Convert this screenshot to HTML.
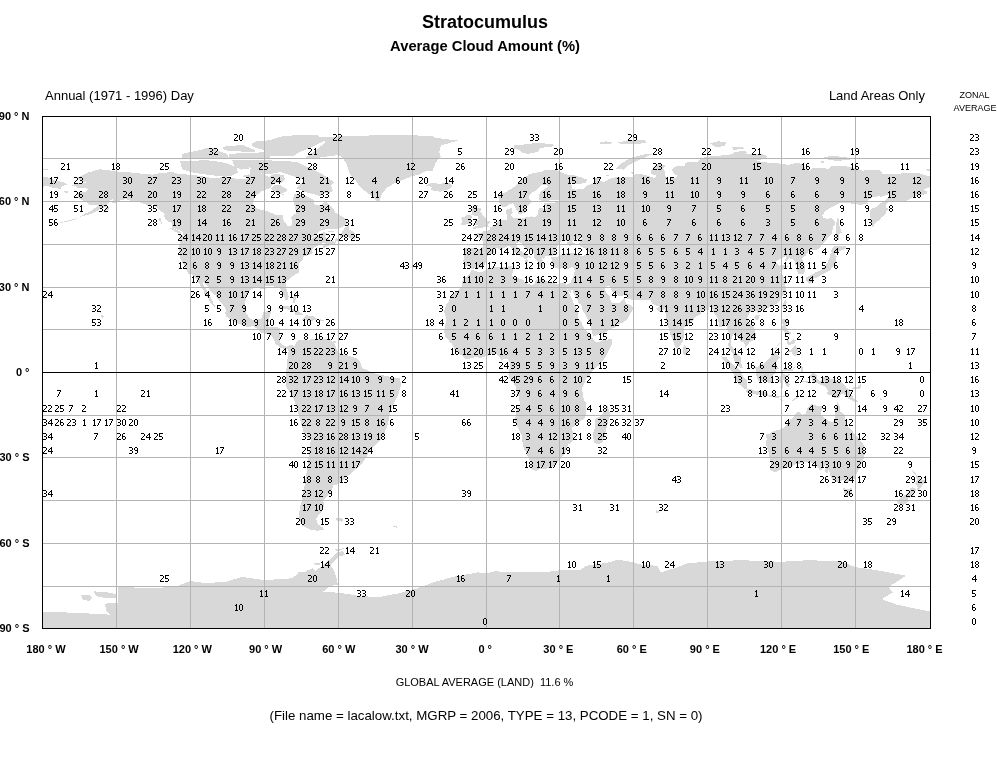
<!DOCTYPE html>
<html><head><meta charset="utf-8"><style>
html,body{margin:0;padding:0;background:#fff;width:997px;height:760px;overflow:hidden}
svg{display:block;will-change:transform}
text{font-family:"Liberation Sans",sans-serif;fill:#000}
.n{font-size:10px;text-anchor:middle}
.lat{font-size:11px;font-weight:bold;text-anchor:end}
.lon{font-size:11px;font-weight:bold;text-anchor:middle}
</style></head><body>
<svg width="997" height="760" viewBox="0 0 997 760">
<rect x="0" y="0" width="997" height="760" fill="#fff"/>
<svg x="43" y="117" width="887" height="511" viewBox="43 117 887 511" overflow="hidden">
<path d="M71.6,185.4 76.5,183.4 81.5,182.6 87.6,183.4 82.0,180.9 75.1,177.7 81.5,176.0 88.9,172.3 100.0,169.2 111.1,170.6 120.9,172.0 133.3,172.6 145.6,174.3 153.0,174.6 157.9,173.5 166.6,172.6 170.3,171.5 180.1,174.3 190.0,174.6 202.3,176.3 209.7,177.7 219.6,177.7 224.5,175.7 236.9,179.1 244.3,179.1 249.2,178.0 250.4,168.6 255.4,168.1 259.1,172.9 264.0,174.3 268.9,176.9 275.1,173.5 283.7,175.2 285.0,180.0 281.3,183.4 273.9,182.8 270.7,187.7 261.5,191.4 254.1,197.1 252.9,204.2 257.8,209.0 267.7,211.3 276.3,215.0 283.0,215.3 283.7,221.2 287.4,225.5 291.1,225.5 292.4,222.7 291.1,217.0 296.1,213.3 294.8,205.6 292.9,199.1 294.1,194.2 303.5,194.8 309.6,197.9 313.8,199.9 314.6,204.7 320.7,205.6 325.7,200.8 327.6,202.8 333.1,208.4 335.5,212.7 339.2,214.7 344.2,217.8 347.9,222.7 345.4,225.5 338.0,229.2 328.1,229.2 322.0,229.8 315.8,234.0 310.9,238.9 315.8,236.0 323.2,232.3 327.4,232.9 325.2,236.0 326.7,238.6 333.1,241.2 336.8,242.3 334.3,244.0 329.4,245.4 323.7,248.0 322.5,245.4 325.7,243.1 320.7,243.7 317.0,246.0 313.3,247.7 311.4,251.1 313.3,253.1 309.6,254.5 303.5,256.5 303.0,259.9 299.8,262.2 298.5,266.8 298.5,270.7 299.8,271.9 296.1,273.9 291.1,277.3 286.2,281.5 285.7,286.7 287.4,291.2 288.7,296.3 287.4,300.3 285.7,300.0 284.0,295.8 282.0,291.8 280.0,287.8 276.3,287.5 272.6,285.5 265.2,286.1 265.7,289.5 262.8,289.2 257.8,287.8 254.1,287.8 248.0,291.8 246.0,296.6 245.3,302.3 244.8,308.6 246.0,312.8 248.7,317.4 251.7,319.4 254.1,320.2 259.1,318.8 261.5,318.5 262.5,315.1 263.0,312.0 267.7,311.1 271.4,310.8 270.4,314.5 268.9,319.4 268.2,323.6 267.5,327.1 271.4,327.1 276.3,326.8 280.3,328.8 279.8,333.6 279.5,339.3 280.0,342.1 282.5,345.0 286.2,346.7 288.7,345.5 292.4,345.3 295.3,347.8 294.6,350.4 292.9,349.0 292.4,352.1 287.9,351.2 287.7,348.7 283.7,348.7 281.3,348.1 275.6,344.1 274.6,340.7 271.4,335.6 268.9,334.5 265.2,333.6 260.3,332.2 256.6,328.2 252.9,325.9 248.0,327.3 243.0,325.6 236.9,322.8 230.7,319.9 226.3,316.5 225.3,312.8 226.5,310.8 225.0,307.4 220.8,302.3 217.6,299.5 215.9,295.8 212.2,292.9 209.2,289.5 207.3,285.2 202.8,281.5 203.3,285.2 206.0,288.7 208.5,293.5 211.0,297.5 213.2,303.2 215.9,306.0 214.4,306.9 209.7,302.3 209.0,298.0 204.3,293.8 203.6,290.1 200.6,286.1 197.9,281.8 196.9,279.3 193.9,275.9 191.2,274.2 188.5,273.6 185.3,267.9 183.8,264.5 180.9,260.5 179.6,256.8 179.6,251.1 178.9,248.3 180.1,240.6 180.1,236.9 178.4,234.3 182.6,235.2 183.8,236.9 183.1,232.9 181.9,231.2 178.2,229.8 171.5,227.2 172.2,223.2 167.8,221.2 164.1,217.0 164.8,214.1 160.9,211.3 156.7,207.3 152.5,203.6 149.3,206.5 144.4,203.9 139.4,202.2 132.0,201.3 125.9,199.1 120.9,200.2 116.7,202.5 111.6,203.6 113.0,199.1 116.0,197.9 110.6,199.9 107.6,204.2 105.6,207.0 100.2,209.0 95.0,212.1 90.1,214.1 83.9,215.8 79.5,217.0 85.7,213.3 90.8,211.3 95.5,207.6 98.0,205.0 94.8,204.5 89.4,205.3 85.9,201.6 81.0,199.9 78.5,197.6 77.0,194.2 80.0,192.5 86.4,191.4 89.1,188.5 86.9,188.5 82.7,188.2 77.8,188.5 75.3,186.3ZM241.8,176.0 249.2,174.3 249.9,176.6 245.5,177.4ZM270.9,189.1 273.9,185.1 278.8,184.6 286.2,188.5 287.4,190.5 280.0,194.8 273.9,190.8ZM281.3,193.4 286.2,195.1 282.5,195.4ZM339.5,236.3 341.7,232.6 344.4,228.1 348.9,225.2 349.1,229.8 353.8,231.8 356.0,236.6 354.0,239.2 350.3,238.3 347.9,236.6 340.0,236.6ZM181.9,234.3 177.2,232.6 169.8,228.1 172.7,228.1 180.1,231.2ZM161.6,223.8 157.9,219.0 160.4,218.1 161.4,220.7ZM335.5,242.3 338.0,240.3 336.8,238.3 334.3,239.7ZM327.4,231.2 333.8,231.5 331.1,232.3ZM109.8,209.3 104.9,210.7 105.4,207.6 108.6,206.5ZM62.5,190.8 69.9,191.7 66.7,192.8ZM75.3,200.5 77.8,201.6 72.8,201.3ZM426.1,185.7 430.5,183.1 440.4,183.7 449.0,182.8 452.7,186.3 450.2,188.8 440.4,191.7 433.0,190.5 430.0,189.1 432.2,187.1ZM276.6,309.7 278.8,307.4 283.7,306.0 288.7,306.3 294.8,310.0 299.8,312.0 303.2,314.5 299.8,315.4 294.3,315.4 295.3,313.1 292.4,310.6 287.4,309.4 284.2,308.6 280.0,308.9ZM302.2,319.7 306.4,315.4 313.3,316.0 317.3,319.1 313.8,319.9 309.9,321.9 307.2,320.2 303.0,320.8ZM292.9,319.9 297.8,320.2 296.6,321.4 294.1,321.1ZM320.2,319.4 324.2,319.9 323.4,320.8 320.2,320.8ZM293.6,295.8 296.1,296.6 294.8,303.7 293.1,302.3ZM333.3,341.3 335.8,341.3 335.5,343.3 333.3,343.3ZM101.2,314.5 104.2,316.5 101.7,318.2 101.2,316.0ZM95.5,310.6 97.3,311.4 96.0,311.4ZM91.8,308.9 93.1,308.9 92.6,309.7ZM99.5,312.3 101.2,312.6 100.5,313.4ZM463.1,261.9 464.3,256.8 464.0,251.1 463.3,249.1 466.3,247.7 472.4,248.3 478.6,248.6 482.3,248.6 482.8,245.4 483.0,241.2 480.6,238.3 474.7,235.8 474.7,233.8 478.6,233.2 482.1,233.5 482.8,230.6 486.5,231.2 489.7,229.5 489.9,227.2 493.9,226.1 497.1,223.2 497.8,221.2 502.0,219.8 507.0,219.5 507.5,215.6 506.2,213.8 506.2,210.7 507.2,209.6 512.1,207.9 511.4,211.3 512.9,211.9 510.7,215.6 513.6,217.8 518.1,217.5 521.3,218.7 526.7,217.0 531.6,216.4 535.1,217.0 538.3,215.0 537.8,211.3 539.3,208.4 541.7,207.9 544.5,209.9 545.9,208.7 546.4,205.9 544.0,205.3 544.0,203.3 550.1,202.8 555.1,202.5 560.0,201.3 557.5,199.9 552.6,199.9 546.4,201.0 541.5,201.3 538.8,199.1 539.0,194.2 541.5,191.1 546.4,187.7 548.7,186.3 546.2,184.8 541.5,184.6 538.5,188.0 535.3,191.1 531.6,192.8 529.2,194.8 528.9,198.5 531.9,200.8 530.9,203.0 527.4,205.6 526.7,209.9 525.0,212.4 521.5,213.8 517.8,214.1 517.6,211.3 515.4,208.2 513.6,204.5 512.1,202.2 511.4,203.9 508.9,204.7 505.7,206.7 502.3,206.7 499.8,205.0 499.1,201.3 498.3,197.1 498.8,194.8 503.3,193.1 507.0,191.4 511.9,188.5 516.1,185.7 519.3,182.0 522.5,179.1 525.5,177.2 529.2,174.3 534.8,172.9 540.3,172.0 545.2,170.0 550.1,170.0 555.1,169.8 560.0,171.5 562.5,172.9 567.4,174.6 574.8,175.4 583.4,178.0 587.1,179.7 585.9,182.6 579.7,184.0 572.3,183.4 567.9,182.6 571.8,185.4 571.6,188.5 576.0,190.0 578.5,188.5 583.9,188.5 586.6,185.7 592.1,183.7 594.8,182.8 594.5,177.7 599.5,178.0 600.7,179.1 597.5,180.6 604.4,182.0 609.3,178.9 616.7,177.2 621.7,177.7 627.8,177.2 632.8,176.9 636.5,173.5 645.1,174.9 651.3,176.9 655.0,178.0 656.7,176.0 651.3,173.7 650.8,170.9 652.5,168.6 655.7,164.6 659.9,163.5 665.3,165.8 662.9,168.6 665.6,171.8 664.8,175.7 667.5,177.4 666.1,181.4 663.6,183.4 668.5,182.0 669.8,178.6 674.9,178.0 677.4,176.0 673.5,173.5 672.0,169.5 674.5,166.9 678.4,166.1 684.8,165.5 685.3,162.6 698.1,161.8 700.6,158.7 705.5,157.2 715.4,155.8 724.0,155.3 731.4,154.4 735.1,152.1 742.5,151.0 748.7,151.8 745.0,153.8 752.4,153.8 760.0,153.8 765.7,155.3 767.2,157.0 763.7,158.7 756.1,160.7 763.7,162.1 767.2,162.6 777.1,162.6 781.5,164.4 789.4,164.6 796.8,162.9 799.3,162.9 803.0,165.5 805.4,168.6 809.9,170.9 812.8,167.8 820.2,168.3 828.9,168.6 831.3,166.1 846.1,166.3 856.0,168.3 862.4,170.6 873.3,170.0 880.7,170.6 882.1,173.7 888.1,173.7 897.9,174.3 902.9,173.2 906.6,172.6 918.9,173.2 930.0,176.6 930.0,187.1 926.3,188.5 923.1,189.1 927.0,191.4 927.5,194.2 920.1,194.8 914.0,196.5 910.8,198.5 906.1,201.3 896.7,200.5 892.5,201.9 888.8,201.6 885.6,205.3 885.6,207.6 888.6,208.2 886.1,212.1 885.1,215.0 881.4,217.5 879.4,220.7 877.0,221.5 872.5,226.9 871.3,222.7 870.1,216.1 869.8,210.4 872.8,207.9 876.7,207.0 880.7,203.3 885.1,200.2 889.3,197.1 890.5,194.2 888.8,194.2 881.2,196.8 878.9,196.2 872.3,197.1 866.4,201.9 868.3,203.6 862.9,204.5 859.2,204.7 853.5,203.6 846.1,203.3 840.0,203.0 835.0,205.3 829.4,208.2 825.2,211.3 822.0,215.6 824.2,218.4 827.9,218.7 831.1,217.8 834.5,221.0 834.8,224.4 832.8,226.4 832.6,229.8 831.8,234.0 827.6,238.3 821.5,245.4 819.0,248.3 815.3,250.3 811.1,249.7 808.6,251.1 805.9,255.4 802.2,258.2 803.0,263.1 804.9,265.9 805.2,270.2 804.2,272.2 800.3,273.3 797.8,273.9 798.0,269.9 798.8,267.0 797.3,264.8 794.8,264.8 794.8,261.9 793.3,259.4 789.2,258.2 785.9,261.1 784.7,260.2 786.9,256.8 785.7,255.9 783.2,257.7 780.8,258.8 777.1,260.5 775.8,262.2 779.3,265.6 783.2,265.0 788.2,265.9 786.9,267.3 783.5,269.0 780.3,272.4 782.7,275.0 784.5,279.6 786.7,281.8 784.5,285.0 786.9,287.2 785.7,290.9 783.2,295.2 780.8,298.3 778.8,302.0 774.6,304.9 770.9,307.1 766.7,308.3 763.5,310.0 759.3,311.4 758.1,314.3 756.6,310.8 753.6,310.3 749.9,312.3 748.9,314.5 747.0,318.0 748.7,322.2 752.4,325.9 754.6,328.8 755.6,333.6 755.4,338.7 752.9,340.7 749.4,342.4 748.2,345.0 745.0,347.3 744.5,344.1 743.8,342.1 741.3,341.8 738.8,337.9 735.1,335.6 733.9,333.6 732.7,335.0 730.7,341.6 731.4,345.5 733.4,348.4 734.1,352.1 736.4,352.7 738.8,354.9 741.1,358.3 741.1,363.5 743.0,367.7 741.3,368.3 738.6,365.7 735.9,363.8 733.7,359.2 732.9,353.5 729.2,348.7 728.2,345.0 729.2,339.3 729.0,333.6 727.2,329.3 726.7,325.1 724.0,324.8 721.1,327.1 718.9,326.5 718.4,320.2 716.9,316.5 713.9,313.4 712.9,310.8 712.4,308.0 709.5,307.1 708.5,309.7 705.5,310.0 703.1,310.6 700.6,312.8 700.4,314.5 696.2,316.5 693.2,319.9 688.8,324.5 686.5,325.6 684.1,327.9 683.6,333.6 683.8,336.7 682.8,341.3 681.4,343.3 679.4,346.4 677.2,349.0 674.9,346.7 674.0,343.0 672.5,339.3 670.5,335.0 668.8,328.8 667.3,325.1 665.8,318.2 665.6,313.7 665.1,310.8 664.8,308.6 659.9,312.6 656.2,308.6 659.4,306.9 655.7,305.2 652.5,304.0 650.5,300.3 645.1,300.0 637.7,300.3 632.5,299.8 627.3,298.6 626.4,295.5 624.6,294.6 620.9,296.6 618.0,295.8 615.5,293.5 613.0,292.6 611.1,288.9 609.6,286.1 606.6,286.1 604.4,287.0 605.4,290.9 606.9,293.8 609.6,296.1 610.6,300.0 611.3,301.5 613.3,303.2 615.5,303.2 619.2,303.4 622.9,299.8 624.9,297.2 625.1,301.2 626.6,303.7 630.5,304.9 633.5,308.0 632.3,310.8 630.3,313.7 628.6,316.0 628.3,318.2 625.4,320.8 622.4,322.8 619.7,323.6 616.7,324.8 614.8,327.6 609.3,329.3 606.1,332.2 603.2,333.3 598.7,334.2 595.8,335.9 593.3,336.2 592.6,334.2 591.6,329.9 591.3,327.1 590.1,323.6 587.6,318.8 585.2,314.5 582.7,310.8 582.2,307.7 581.0,304.6 578.5,302.9 576.8,298.6 574.6,294.9 572.8,292.1 572.1,288.1 571.1,290.9 570.4,292.9 568.6,291.5 566.4,287.0 565.7,283.0 565.9,285.0 567.4,283.8 570.4,283.0 572.1,278.7 573.6,275.3 574.6,271.3 574.3,267.6 571.3,267.3 567.4,269.3 563.5,267.6 559.3,269.0 555.6,267.6 553.3,265.6 552.4,263.3 551.1,261.6 552.4,259.6 550.6,258.5 551.6,257.4 553.8,257.1 557.3,257.1 558.8,255.7 563.5,254.8 568.6,252.5 572.8,252.5 577.0,254.5 580.5,255.7 585.7,255.4 588.6,253.7 588.4,250.8 584.7,248.6 580.2,245.7 578.3,244.9 580.5,240.6 582.7,238.0 578.5,238.3 572.3,240.6 572.1,242.0 573.6,242.9 576.0,242.9 573.1,245.1 569.4,245.7 566.2,243.1 568.9,241.4 565.2,240.6 563.7,239.4 560.5,241.7 559.0,244.0 556.8,246.3 556.3,248.6 554.8,250.5 555.1,252.5 557.3,254.5 553.8,255.4 550.9,255.7 550.1,255.9 546.2,255.7 544.5,256.2 545.7,258.2 543.5,258.5 541.7,257.4 542.2,259.9 543.5,261.1 541.5,261.9 545.2,263.3 542.7,264.2 543.2,265.9 542.2,267.9 541.5,266.8 539.5,267.3 538.0,264.2 538.8,262.2 536.1,259.9 533.9,257.4 534.1,253.7 531.6,251.1 529.2,249.7 525.5,248.3 523.5,246.3 521.8,243.4 519.5,242.0 516.3,243.1 516.8,245.4 516.6,246.3 519.3,248.0 520.5,250.5 523.2,252.8 525.5,253.1 525.5,254.2 529.2,255.9 531.6,257.7 531.4,258.8 528.2,257.1 526.7,259.4 528.2,261.4 525.7,263.9 524.5,263.3 525.7,259.6 524.0,258.2 522.8,257.7 520.5,255.9 518.1,254.5 515.8,252.8 513.6,251.4 511.9,250.0 511.2,247.1 508.0,245.7 505.2,247.4 502.0,249.4 498.3,248.6 495.9,248.3 493.6,249.7 493.9,252.8 490.9,254.8 488.0,255.4 486.0,258.5 485.3,260.2 486.5,261.6 484.3,265.0 482.1,266.8 480.6,267.6 475.1,267.6 472.7,269.3 471.2,268.5 470.2,267.0 467.5,266.2 464.0,266.8 464.3,263.1 462.6,261.6ZM471.9,229.5 475.6,228.6 478.6,227.8 483.0,227.5 487.5,227.2 489.5,226.4 487.7,224.9 490.2,222.4 489.9,221.5 486.7,221.0 486.2,219.5 484.5,217.0 482.8,215.8 482.1,213.8 480.8,212.4 478.6,212.1 480.6,211.0 481.6,208.2 477.9,207.9 476.1,207.3 478.6,205.3 473.7,205.3 472.2,207.3 471.7,209.9 472.4,212.1 471.2,214.7 473.9,215.3 474.2,216.4 477.6,215.8 478.4,218.7 478.8,220.4 475.9,220.4 474.4,221.8 476.1,222.7 473.2,224.7 478.1,225.5 475.4,226.4 473.4,227.2ZM471.2,223.5 471.2,221.0 471.0,218.4 472.4,216.7 470.5,215.0 467.5,214.7 465.0,216.4 461.3,217.8 461.6,220.1 462.6,221.8 460.6,223.8 460.6,225.2 463.8,225.5 467.0,224.1 470.2,223.5ZM513.1,148.7 514.4,145.3 525.5,144.4 535.3,143.0 552.6,143.9 555.1,146.2 540.3,147.9 537.8,151.8 527.9,154.1 521.8,152.4 519.3,149.8ZM630.3,171.8 635.2,173.2 632.0,173.7ZM605.6,174.3 609.3,175.4 606.9,176.3ZM823.9,157.2 831.3,155.8 843.7,157.0 856.0,158.7 838.7,160.9 828.9,160.1ZM820.2,160.7 826.4,162.1 821.5,162.9ZM926.3,169.2 930.0,168.6 930.0,170.6 927.0,170.6ZM42.0,168.6 48.2,169.5 42.0,170.6ZM42.0,176.6 49.4,177.7 55.6,180.9 61.7,181.7 66.7,183.7 67.4,184.8 63.7,185.7 60.5,187.1 61.0,188.8 55.6,188.2 50.6,187.1 45.7,185.7 42.0,187.1ZM836.3,241.2 838.7,239.4 839.5,234.0 841.9,232.6 839.5,226.4 839.0,221.2 838.0,217.5 837.0,219.3 836.0,224.1 836.5,228.4 836.0,233.2 835.8,236.9ZM782.7,308.0 784.5,309.4 786.7,302.3 785.9,300.0 783.7,302.0 782.2,306.0ZM753.9,317.4 756.1,315.1 759.8,315.4 758.6,319.1 756.1,320.2ZM682.8,353.5 683.1,348.4 684.1,344.1 686.5,347.8 688.0,351.5 685.8,354.6 683.8,354.9ZM782.0,319.7 783.5,319.1 787.7,319.4 787.4,323.6 785.9,326.8 788.2,331.3 791.9,332.7 790.1,335.0 785.7,333.0 783.5,331.3 781.5,327.9 782.7,325.1ZM786.9,352.1 790.6,349.8 793.1,347.8 795.6,344.4 798.3,351.2 797.3,354.1 795.3,356.1 792.4,354.4 791.4,351.5ZM786.9,338.4 789.9,342.1 793.1,339.3 796.3,339.9 794.3,343.6 791.4,344.4 788.2,345.0 786.7,342.1ZM775.1,348.4 781.3,340.7 780.5,342.4 775.8,348.7ZM443.8,330.2 444.8,333.6 444.6,336.7 447.8,339.3 449.7,341.8 452.2,344.1 453.4,347.0 455.2,350.4 457.9,352.7 461.6,355.5 465.5,358.9 467.5,359.5 471.7,357.8 476.1,357.2 481.1,358.3 483.5,356.9 488.5,355.2 492.2,354.1 496.9,354.1 499.6,357.2 500.8,359.8 504.5,359.2 507.0,358.9 508.9,360.9 510.4,363.5 509.7,367.7 509.2,371.4 508.2,374.8 510.2,379.1 513.6,383.1 515.6,386.2 516.3,390.5 518.6,396.2 519.8,402.7 520.0,406.1 516.8,410.4 515.6,416.1 515.1,421.8 516.8,425.5 519.3,430.9 521.8,436.0 522.5,441.7 523.7,448.2 526.7,453.4 528.7,458.8 530.9,463.0 530.4,465.9 531.4,469.3 534.1,470.4 536.6,470.7 540.3,469.0 545.2,468.7 549.6,468.1 552.1,467.6 555.6,464.7 558.8,461.0 561.5,457.6 563.5,455.1 565.4,453.4 566.7,450.2 567.2,446.0 568.6,444.2 572.3,442.0 573.6,438.8 573.3,433.2 572.1,429.5 572.3,427.5 575.8,425.2 578.5,422.1 581.7,420.4 585.2,416.9 586.1,413.2 585.9,407.6 585.9,401.9 583.9,400.2 583.2,396.2 582.7,392.5 582.0,389.4 582.9,385.9 584.2,383.7 585.2,380.0 587.1,377.7 589.1,376.3 590.8,373.4 593.3,370.0 596.5,367.2 600.0,364.6 602.4,361.2 604.4,358.6 606.4,355.5 608.1,351.5 609.8,348.4 611.3,345.3 612.3,342.1 612.5,338.4 609.3,339.0 606.4,339.9 603.2,340.1 599.5,341.6 595.8,342.4 593.3,340.1 592.8,338.2 591.3,336.4 589.1,333.9 586.9,331.3 584.2,328.5 582.7,325.6 581.2,321.4 578.5,318.5 578.0,313.7 577.3,310.0 576.3,307.1 573.8,304.3 573.1,301.2 571.3,297.8 569.6,294.3 568.1,291.5 566.4,287.2 565.9,283.3 563.7,282.4 560.7,283.0 557.5,284.1 553.8,283.0 548.9,282.1 546.4,281.3 542.7,279.3 539.0,278.4 535.3,281.0 534.8,283.8 531.6,285.2 527.9,283.8 524.2,282.1 523.5,279.8 518.6,278.4 514.4,277.6 511.9,275.9 512.6,273.0 513.6,270.7 511.9,267.9 513.1,266.8 510.2,265.9 507.0,267.0 502.0,266.5 497.1,267.0 493.4,267.3 489.7,267.9 486.0,269.9 482.8,271.6 480.6,272.2 477.4,271.9 473.7,270.2 471.4,270.2 470.0,273.3 467.5,276.1 465.0,277.3 463.1,279.6 461.8,283.0 462.1,286.7 460.1,288.7 457.6,291.5 454.4,292.9 452.7,294.1 450.2,297.5 449.0,300.9 446.5,304.3 445.3,308.0 444.1,311.4 445.3,315.1 446.0,318.0 445.8,321.4 445.3,325.9 444.6,328.5ZM607.6,406.1 609.8,413.2 610.6,416.1 609.1,417.5 608.1,421.8 606.4,428.9 604.4,436.0 602.4,442.5 597.7,444.5 594.5,442.5 593.5,438.8 592.8,434.0 594.5,428.9 595.5,424.6 594.5,420.4 595.8,418.1 599.5,416.9 601.2,415.2 603.9,411.8 605.4,410.1 606.4,407.3ZM721.1,356.1 724.0,357.2 726.5,357.2 729.2,360.9 732.2,363.5 733.9,365.7 736.4,367.2 738.8,369.2 741.3,372.0 742.0,374.8 743.8,377.1 746.2,379.1 747.5,381.1 747.2,384.8 747.0,388.5 744.0,388.8 741.3,386.2 738.3,383.4 735.9,380.0 734.1,376.3 733.2,373.4 730.9,370.6 729.5,367.4 727.0,364.9 725.0,361.8 722.6,359.5ZM745.5,391.3 747.5,389.1 749.9,388.8 753.1,389.9 756.1,391.3 759.3,390.5 762.3,391.3 764.2,391.6 768.4,393.9 768.2,396.7 764.7,395.6 759.8,395.3 754.9,394.2 751.2,393.3 748.2,393.0ZM768.4,395.3 773.4,395.6 772.4,397.3 768.7,397.0ZM774.1,396.2 779.5,395.9 788.2,395.3 789.4,396.5 782.0,397.0 775.8,397.9ZM790.6,401.3 794.3,398.5 800.0,395.9 798.0,397.6 793.1,401.0ZM779.5,399.0 784.0,400.2 781.5,401.3ZM754.9,366.9 756.3,371.1 755.6,374.3 757.3,377.7 757.8,380.5 761.0,380.5 763.5,381.4 766.0,381.1 768.4,383.1 771.9,382.2 772.9,379.1 773.4,375.4 775.6,372.0 777.1,369.2 779.0,368.9 776.8,366.3 776.3,362.0 778.3,359.2 780.0,357.2 777.6,355.5 775.8,352.9 773.9,352.1 772.1,354.6 770.7,357.2 768.4,358.9 766.0,361.5 763.5,363.5 759.8,364.9 757.3,366.9ZM780.5,387.6 780.8,383.4 779.3,381.1 779.5,379.1 781.5,373.4 782.0,370.3 784.0,368.3 786.9,369.2 790.6,369.4 793.6,368.0 794.6,367.4 792.6,370.9 790.1,371.1 785.0,370.6 782.5,371.4 782.5,374.0 785.7,374.8 790.1,374.3 787.9,376.8 785.5,377.4 787.4,381.1 789.9,384.5 788.7,387.4 786.4,385.7 785.0,382.8 784.2,379.4 783.0,380.5 783.0,387.9ZM801.0,365.7 803.0,367.7 803.5,370.6 801.7,372.6 800.5,369.7ZM801.7,381.4 807.9,381.1 808.9,382.8 803.0,382.2ZM809.1,376.0 812.8,373.1 816.5,374.6 817.8,380.0 820.2,381.4 823.9,376.6 826.4,376.6 830.1,378.5 833.8,379.4 837.5,381.1 842.4,382.8 845.6,385.9 846.6,387.9 850.3,389.9 850.1,391.6 851.8,395.6 854.3,398.5 858.0,401.3 856.0,402.2 852.3,400.7 848.6,399.0 846.4,395.6 842.4,393.6 840.0,395.9 838.7,398.5 835.0,398.2 831.3,395.3 828.4,395.0 826.9,393.3 828.1,391.3 826.4,387.9 823.9,385.9 821.0,384.8 817.0,383.1 814.8,383.4 813.3,381.4 811.4,380.0 812.1,378.3 809.6,376.6ZM852.3,387.6 857.2,387.1 860.9,383.9 861.7,386.2 859.7,388.5 856.0,389.6 852.3,389.1ZM880.2,398.2 882.6,400.2 879.7,399.6ZM766.0,434.6 766.7,438.8 766.0,444.5 767.2,447.4 768.7,453.1 769.7,458.8 771.4,464.4 769.9,467.6 769.9,469.8 773.4,471.6 777.1,471.6 780.8,469.8 784.5,468.1 789.4,468.4 791.9,465.9 795.6,464.2 799.3,463.6 804.2,462.2 809.1,461.6 812.8,463.0 816.5,465.3 819.7,470.1 821.0,470.4 823.4,467.3 825.7,464.7 825.9,467.9 824.4,472.1 827.6,473.0 828.6,469.6 830.3,474.4 830.8,477.5 832.8,480.1 835.3,481.2 838.7,482.1 841.2,480.7 843.4,479.8 844.9,481.5 846.9,483.2 849.8,480.7 851.8,479.5 855.8,478.7 856.2,475.0 858.0,471.3 859.2,468.4 860.9,465.3 862.9,461.6 863.6,458.2 864.9,453.4 863.6,449.7 863.6,445.1 862.2,442.5 859.7,440.3 858.0,436.9 855.0,435.1 853.5,432.6 852.3,430.3 848.6,427.2 846.9,425.2 846.1,421.8 844.9,418.4 844.4,414.7 842.4,412.7 840.5,411.8 840.0,407.6 838.2,403.6 837.5,402.4 836.5,405.3 835.3,410.4 835.3,415.2 834.8,418.9 833.3,421.8 831.3,422.3 829.4,421.2 826.4,419.2 823.7,417.2 820.5,414.7 821.2,411.3 823.2,407.3 823.4,405.8 820.2,406.1 816.5,405.8 813.1,404.4 811.4,404.1 808.4,407.3 806.9,409.0 805.7,414.1 804.2,414.4 801.7,414.7 800.0,411.8 797.3,412.4 795.1,414.7 792.9,418.4 790.9,418.9 789.4,421.2 787.4,422.9 786.4,424.9 784.2,427.8 780.8,429.2 779.0,429.7 775.1,430.9 773.1,431.2 770.2,433.4 768.7,434.3 767.2,434.0ZM842.9,487.8 846.9,488.9 851.8,488.3 851.8,492.0 850.8,494.9 846.1,496.0 844.2,492.3ZM912.0,469.8 915.0,472.4 916.7,475.8 919.1,477.8 920.1,479.0 923.8,479.8 926.3,479.2 925.8,481.5 924.8,483.2 922.6,484.4 922.4,485.8 920.6,488.3 918.4,490.3 917.2,489.5 917.9,487.2 916.7,485.2 914.7,483.5 916.4,482.1 916.9,479.5 915.7,475.5 913.0,472.1ZM912.0,487.2 915.0,488.3 915.9,490.0 914.7,492.3 913.2,495.2 912.2,496.6 908.5,498.3 907.3,502.3 904.1,504.6 901.1,504.6 896.9,503.1 897.4,500.9 901.4,497.2 906.6,494.3 909.0,490.9 910.5,488.3ZM899.7,505.1 901.1,505.4 899.9,506.5ZM890.8,429.5 894.2,432.6 897.9,435.4 895.0,433.7 891.8,431.2ZM923.3,421.2 926.3,421.8 925.1,423.8 923.1,423.2ZM896.7,414.7 898.7,416.1 897.9,417.5ZM308.4,569.7 317.0,572.5 313.3,578.2 301.0,575.4ZM362.7,595.3 375.0,598.1 367.6,601.0ZM392.3,525.6 396.5,526.2 397.7,527.9 393.5,527.0ZM655.7,510.2 659.2,510.8 658.7,513.4 655.7,512.8ZM333.1,549.8 342.9,548.4 350.3,546.1 338.0,551.2ZM62.2,190.5 69.6,191.9 65.4,192.8ZM75.3,218.7 79.0,217.8 71.6,220.7 61.7,222.7 51.9,224.7 46.9,224.9 56.8,223.2ZM42.0,611.5 80.0,613.0 115.5,615.0 118.0,600.0 118.0,587.0 150.0,588.0 175.0,587.0 190.0,581.0 205.0,583.0 225.0,582.0 242.0,577.0 264.0,580.0 280.0,579.2 291.7,578.3 297.1,574.7 299.0,571.6 304.4,571.6 306.2,574.7 309.8,569.3 312.5,568.4 316.1,571.1 317.9,568.4 322.4,566.6 328.7,560.3 334.2,555.8 337.8,552.1 343.2,551.2 345.0,554.9 338.7,556.7 330.5,564.8 334.2,571.1 336.9,579.2 337.8,584.6 330.0,586.0 323.3,591.5 338.7,592.8 352.2,594.6 365.0,597.5 379.8,596.9 397.6,593.5 415.4,589.0 433.2,582.4 453.3,576.8 477.8,572.4 486.0,573.5 494.9,571.4 519.4,572.0 541.7,572.5 559.5,570.3 579.5,570.3 586.2,565.8 608.5,562.5 617.4,559.6 628.5,561.4 641.9,564.7 657.5,565.8 660.8,572.5 675.3,568.0 686.4,563.6 708.0,561.4 741.4,560.2 781.5,561.8 808.2,560.2 841.6,561.4 855.0,567.0 877.2,570.3 895.0,573.6 906.2,575.8 897.3,581.4 888.4,587.0 892.8,592.5 881.7,599.2 897.3,604.8 930.0,611.5 930.0,629.0 42.0,629.0ZM81.0,595.0 88.0,594.5 92.0,597.0 90.0,601.0 83.0,600.0ZM94.0,591.4 105.0,592.0 115.5,594.0 116.0,598.0 105.0,598.0 96.0,596.0ZM297.2,340.6 310.0,339.5 320.0,339.0 330.0,339.5 335.0,345.0 338.0,352.7 348.7,355.7 357.8,358.8 360.8,363.3 362.0,368.0 376.0,373.9 391.0,377.0 400.0,378.4 401.0,385.0 398.6,393.6 391.0,408.7 388.0,423.8 382.0,439.0 374.0,446.0 368.7,453.2 362.0,463.7 351.6,472.9 343.7,479.5 338.4,484.0 333.2,485.4 331.8,490.0 327.9,495.3 323.3,499.9 324.0,505.8 322.0,511.0 318.7,515.0 316.0,519.0 318.0,524.2 322.6,527.5 324.0,529.5 317.4,530.8 309.5,529.5 302.2,525.5 299.2,519.0 299.6,508.4 302.2,499.2 304.9,483.4 307.5,466.3 309.5,450.5 310.8,440.0 304.8,436.0 300.3,420.8 297.2,408.7 292.7,396.6 286.6,387.5 285.1,380.0 286.6,367.8 288.2,352.7 294.0,347.0ZM335.8,518.0 339.0,517.4 343.7,519.0 342.0,521.6 337.0,521.0ZM314.3,563.5 320.6,562.5 320.0,565.0 315.0,565.5ZM251.7,143.8 256.3,141.5 263.7,141.0 270.0,140.1 270.0,149.3 263.7,149.8 257.2,148.4 252.6,146.6ZM223.1,146.6 231.4,146.1 241.6,144.7 248.9,147.5 254.5,149.8 254.5,152.1 245.2,152.1 236.0,150.7 228.7,151.2 223.1,149.3ZM182.0,154.0 190.0,152.1 199.2,150.3 206.6,148.0 213.9,148.4 221.3,152.1 226.8,153.9 228.7,157.6 182.0,157.6ZM228.7,153.9 245.2,153.0 270.0,152.1 270.0,157.6 228.7,157.6ZM180.0,161.0 191.8,160.6 208.4,160.4 222.2,162.2 228.7,164.1 236.0,166.8 237.9,172.4 231.4,176.0 217.6,176.0 203.8,174.2 190.0,172.0 182.0,169.0ZM232.4,160.4 248.9,160.4 248.9,168.7 241.6,169.6 234.2,166.8ZM248.9,160.4 270.0,160.4 297.2,161.8 303.7,165.5 312.9,169.2 320.2,172.9 334.0,182.0 331.0,186.0 333.0,191.0 328.0,194.0 325.7,192.8 320.0,196.0 313.0,194.0 305.0,192.0 296.0,188.0 300.0,184.0 305.0,180.0 289.0,175.0 280.0,172.0 270.0,174.2 260.0,173.3 254.5,169.6 248.9,166.8ZM265.0,141.6 283.4,136.0 306.4,134.7 318.0,135.5 324.0,141.0 310.0,148.0 300.0,152.0 292.6,156.3 265.0,156.0ZM600.0,142.6 605.4,141.3 612.6,142.0 610.8,144.4 600.0,144.4ZM618.0,142.6 628.9,140.2 645.1,140.2 646.0,142.6 636.1,144.4 621.7,144.4ZM654.2,153.4 645.1,154.3 630.7,157.9 621.7,163.3 615.3,168.7 623.5,169.6 628.9,165.1 636.1,161.5 641.5,158.8ZM710.1,143.5 717.3,141.3 726.4,142.0 724.5,146.2 715.5,147.1ZM731.8,147.1 742.6,146.7 744.4,148.9 733.6,149.8ZM319.0,137.0 338.5,136.5 360.7,136.0 372.6,135.3 398.2,134.5 432.3,136.2 435.7,137.9 457.9,140.5 440.8,145.6 439.1,152.4 440.8,156.7 435.7,162.6 432.3,171.2 425.5,171.2 418.7,174.6 411.8,176.3 403.3,179.7 394.8,183.1 386.3,188.2 381.2,195.0 379.4,201.8 377.0,201.5 370.6,195.3 361.0,188.0 356.0,181.0 350.0,174.0 347.0,165.0 343.0,158.0 338.5,155.0 320.0,157.5 306.0,157.5 316.0,150.0 326.0,142.0 321.0,139.0ZM105.0,604.0 112.0,602.5 118.5,602.5 118.5,616.0 110.0,615.0 106.0,610.0ZM834.2,253.7 836.6,256.0 835.8,261.6 832.6,267.1 829.5,271.0 823.9,273.4 818.4,276.6 813.7,278.9 809.7,283.7 806.6,281.3 805.8,277.4 809.7,275.8 815.3,272.6 821.6,269.5 827.1,263.9 829.5,257.6 830.3,253.7 832.6,252.1ZM797.9,267.9 803.4,271.0 804.2,274.2 799.5,274.2 797.1,271.0ZM830.3,251.3 834.2,245.8 841.3,245.8 846.8,246.6 845.2,248.9 839.0,251.3 834.2,253.7Z" fill="#d8d8d8" shape-rendering="crispEdges"/>
<path d="" fill="#fff" shape-rendering="crispEdges"/>
</svg>

<g stroke="#b4b4b4" stroke-width="1" shape-rendering="crispEdges"><line x1="116.5" y1="116" x2="116.5" y2="628" /><line x1="190.5" y1="116" x2="190.5" y2="628" /><line x1="264.5" y1="116" x2="264.5" y2="628" /><line x1="338.5" y1="116" x2="338.5" y2="628" /><line x1="412.5" y1="116" x2="412.5" y2="628" /><line x1="486.5" y1="116" x2="486.5" y2="628" /><line x1="559.5" y1="116" x2="559.5" y2="628" /><line x1="633.5" y1="116" x2="633.5" y2="628" /><line x1="707.5" y1="116" x2="707.5" y2="628" /><line x1="781.5" y1="116" x2="781.5" y2="628" /><line x1="855.5" y1="116" x2="855.5" y2="628" /><line x1="42" y1="158.5" x2="930" y2="158.5" /><line x1="42" y1="201.5" x2="930" y2="201.5" /><line x1="42" y1="244.5" x2="930" y2="244.5" /><line x1="42" y1="287.5" x2="930" y2="287.5" /><line x1="42" y1="329.5" x2="930" y2="329.5" /><line x1="42" y1="415.5" x2="930" y2="415.5" /><line x1="42" y1="457.5" x2="930" y2="457.5" /><line x1="42" y1="500.5" x2="930" y2="500.5" /><line x1="42" y1="543.5" x2="930" y2="543.5" /><line x1="42" y1="586.5" x2="930" y2="586.5" /></g>
<line x1="42" y1="372.5" x2="930" y2="372.5" stroke="#000" stroke-width="1" shape-rendering="crispEdges"/>
<rect x="42.5" y="116.5" width="888" height="512" fill="none" stroke="#000" stroke-width="1" shape-rendering="crispEdges"/>
<defs><path id="g0" d="M1,0h2v1h-2zM0,1h1v1h-1zM3,1h1v1h-1zM0,2h1v1h-1zM3,2h1v1h-1zM0,3h1v1h-1zM3,3h1v1h-1zM0,4h1v1h-1zM3,4h1v1h-1zM0,5h1v1h-1zM3,5h1v1h-1zM1,6h2v1h-2z"/><path id="g1" d="M2,0h1v1h-1zM1,1h2v1h-2zM2,2h1v1h-1zM2,3h1v1h-1zM2,4h1v1h-1zM2,5h1v1h-1zM1,6h3v1h-3z"/><path id="g2" d="M0,0h3v1h-3zM3,1h1v1h-1zM3,2h1v1h-1zM2,3h1v1h-1zM1,4h1v1h-1zM0,5h1v1h-1zM0,6h4v1h-4z"/><path id="g3" d="M0,0h3v1h-3zM3,1h1v1h-1zM3,2h1v1h-1zM1,3h2v1h-2zM3,4h1v1h-1zM3,5h1v1h-1zM0,6h3v1h-3z"/><path id="g4" d="M3,0h1v1h-1zM2,1h2v1h-2zM1,2h1v1h-1zM3,2h1v1h-1zM0,3h1v1h-1zM3,3h1v1h-1zM0,4h5v1h-5zM3,5h1v1h-1zM3,6h1v1h-1z"/><path id="g5" d="M0,0h4v1h-4zM0,1h1v1h-1zM0,2h1v1h-1zM0,3h3v1h-3zM3,4h1v1h-1zM3,5h1v1h-1zM0,6h3v1h-3z"/><path id="g6" d="M1,0h2v1h-2zM0,1h1v1h-1zM0,2h1v1h-1zM0,3h3v1h-3zM0,4h1v1h-1zM3,4h1v1h-1zM0,5h1v1h-1zM3,5h1v1h-1zM1,6h2v1h-2z"/><path id="g7" d="M0,0h4v1h-4zM3,1h1v1h-1zM2,2h1v1h-1zM2,3h1v1h-1zM1,4h1v1h-1zM1,5h1v1h-1zM0,6h1v1h-1z"/><path id="g8" d="M1,0h2v1h-2zM0,1h1v1h-1zM3,1h1v1h-1zM0,2h1v1h-1zM3,2h1v1h-1zM1,3h2v1h-2zM0,4h1v1h-1zM3,4h1v1h-1zM0,5h1v1h-1zM3,5h1v1h-1zM1,6h2v1h-2z"/><path id="g9" d="M1,0h2v1h-2zM0,1h1v1h-1zM3,1h1v1h-1zM0,2h1v1h-1zM3,2h1v1h-1zM1,3h3v1h-3zM3,4h1v1h-1zM3,5h1v1h-1zM1,6h2v1h-2z"/></defs><g fill="#000" shape-rendering="crispEdges"><use href="#g2" x="234" y="134"/><use href="#g0" x="239" y="134"/><use href="#g2" x="333" y="134"/><use href="#g2" x="338" y="134"/><use href="#g3" x="530" y="134"/><use href="#g3" x="535" y="134"/><use href="#g2" x="628" y="134"/><use href="#g9" x="633" y="134"/><use href="#g3" x="209" y="148"/><use href="#g2" x="214" y="148"/><use href="#g2" x="308" y="148"/><use href="#g1" x="313" y="148"/><use href="#g5" x="458" y="148"/><use href="#g2" x="505" y="148"/><use href="#g9" x="510" y="148"/><use href="#g2" x="554" y="148"/><use href="#g0" x="559" y="148"/><use href="#g2" x="653" y="148"/><use href="#g8" x="658" y="148"/><use href="#g2" x="702" y="148"/><use href="#g2" x="707" y="148"/><use href="#g2" x="752" y="148"/><use href="#g1" x="757" y="148"/><use href="#g1" x="801" y="148"/><use href="#g6" x="806" y="148"/><use href="#g1" x="850" y="148"/><use href="#g9" x="855" y="148"/><use href="#g2" x="61" y="163"/><use href="#g1" x="66" y="163"/><use href="#g1" x="111" y="163"/><use href="#g8" x="116" y="163"/><use href="#g2" x="160" y="163"/><use href="#g5" x="165" y="163"/><use href="#g2" x="259" y="163"/><use href="#g5" x="264" y="163"/><use href="#g2" x="308" y="163"/><use href="#g8" x="313" y="163"/><use href="#g1" x="406" y="163"/><use href="#g2" x="411" y="163"/><use href="#g2" x="456" y="163"/><use href="#g6" x="461" y="163"/><use href="#g2" x="505" y="163"/><use href="#g0" x="510" y="163"/><use href="#g1" x="554" y="163"/><use href="#g6" x="559" y="163"/><use href="#g2" x="604" y="163"/><use href="#g2" x="609" y="163"/><use href="#g2" x="653" y="163"/><use href="#g3" x="658" y="163"/><use href="#g2" x="702" y="163"/><use href="#g0" x="707" y="163"/><use href="#g1" x="752" y="163"/><use href="#g5" x="757" y="163"/><use href="#g1" x="801" y="163"/><use href="#g6" x="806" y="163"/><use href="#g1" x="850" y="163"/><use href="#g6" x="855" y="163"/><use href="#g1" x="900" y="163"/><use href="#g1" x="905" y="163"/><use href="#g1" x="49" y="177"/><use href="#g7" x="54" y="177"/><use href="#g2" x="74" y="177"/><use href="#g3" x="79" y="177"/><use href="#g3" x="123" y="177"/><use href="#g0" x="128" y="177"/><use href="#g2" x="148" y="177"/><use href="#g7" x="153" y="177"/><use href="#g2" x="172" y="177"/><use href="#g3" x="177" y="177"/><use href="#g3" x="197" y="177"/><use href="#g0" x="202" y="177"/><use href="#g2" x="222" y="177"/><use href="#g7" x="227" y="177"/><use href="#g2" x="246" y="177"/><use href="#g7" x="251" y="177"/><use href="#g2" x="271" y="177"/><use href="#g4" x="276" y="177"/><use href="#g2" x="296" y="177"/><use href="#g1" x="301" y="177"/><use href="#g2" x="320" y="177"/><use href="#g1" x="325" y="177"/><use href="#g1" x="345" y="177"/><use href="#g2" x="350" y="177"/><use href="#g4" x="372" y="177"/><use href="#g6" x="396" y="177"/><use href="#g2" x="419" y="177"/><use href="#g0" x="424" y="177"/><use href="#g1" x="444" y="177"/><use href="#g4" x="449" y="177"/><use href="#g2" x="518" y="177"/><use href="#g0" x="523" y="177"/><use href="#g1" x="542" y="177"/><use href="#g6" x="547" y="177"/><use href="#g1" x="567" y="177"/><use href="#g5" x="572" y="177"/><use href="#g1" x="592" y="177"/><use href="#g7" x="597" y="177"/><use href="#g1" x="616" y="177"/><use href="#g8" x="621" y="177"/><use href="#g1" x="641" y="177"/><use href="#g6" x="646" y="177"/><use href="#g1" x="665" y="177"/><use href="#g5" x="670" y="177"/><use href="#g1" x="690" y="177"/><use href="#g1" x="695" y="177"/><use href="#g9" x="717" y="177"/><use href="#g1" x="739" y="177"/><use href="#g1" x="744" y="177"/><use href="#g1" x="764" y="177"/><use href="#g0" x="769" y="177"/><use href="#g7" x="791" y="177"/><use href="#g9" x="815" y="177"/><use href="#g9" x="840" y="177"/><use href="#g9" x="865" y="177"/><use href="#g1" x="887" y="177"/><use href="#g2" x="892" y="177"/><use href="#g1" x="912" y="177"/><use href="#g2" x="917" y="177"/><use href="#g1" x="49" y="191"/><use href="#g9" x="54" y="191"/><use href="#g2" x="74" y="191"/><use href="#g6" x="79" y="191"/><use href="#g2" x="99" y="191"/><use href="#g8" x="104" y="191"/><use href="#g2" x="123" y="191"/><use href="#g4" x="128" y="191"/><use href="#g2" x="148" y="191"/><use href="#g0" x="153" y="191"/><use href="#g1" x="172" y="191"/><use href="#g9" x="177" y="191"/><use href="#g2" x="197" y="191"/><use href="#g2" x="202" y="191"/><use href="#g2" x="222" y="191"/><use href="#g8" x="227" y="191"/><use href="#g2" x="246" y="191"/><use href="#g4" x="251" y="191"/><use href="#g2" x="271" y="191"/><use href="#g3" x="276" y="191"/><use href="#g3" x="296" y="191"/><use href="#g6" x="301" y="191"/><use href="#g3" x="320" y="191"/><use href="#g3" x="325" y="191"/><use href="#g8" x="347" y="191"/><use href="#g1" x="370" y="191"/><use href="#g1" x="375" y="191"/><use href="#g2" x="419" y="191"/><use href="#g7" x="424" y="191"/><use href="#g2" x="444" y="191"/><use href="#g6" x="449" y="191"/><use href="#g2" x="468" y="191"/><use href="#g5" x="473" y="191"/><use href="#g1" x="493" y="191"/><use href="#g4" x="498" y="191"/><use href="#g1" x="518" y="191"/><use href="#g7" x="523" y="191"/><use href="#g1" x="542" y="191"/><use href="#g6" x="547" y="191"/><use href="#g1" x="567" y="191"/><use href="#g5" x="572" y="191"/><use href="#g1" x="592" y="191"/><use href="#g6" x="597" y="191"/><use href="#g1" x="616" y="191"/><use href="#g8" x="621" y="191"/><use href="#g9" x="643" y="191"/><use href="#g1" x="665" y="191"/><use href="#g1" x="670" y="191"/><use href="#g1" x="690" y="191"/><use href="#g0" x="695" y="191"/><use href="#g9" x="717" y="191"/><use href="#g9" x="741" y="191"/><use href="#g6" x="766" y="191"/><use href="#g6" x="791" y="191"/><use href="#g6" x="815" y="191"/><use href="#g9" x="840" y="191"/><use href="#g1" x="863" y="191"/><use href="#g5" x="868" y="191"/><use href="#g1" x="887" y="191"/><use href="#g5" x="892" y="191"/><use href="#g1" x="912" y="191"/><use href="#g8" x="917" y="191"/><use href="#g4" x="49" y="205"/><use href="#g5" x="54" y="205"/><use href="#g5" x="74" y="205"/><use href="#g1" x="79" y="205"/><use href="#g3" x="99" y="205"/><use href="#g2" x="104" y="205"/><use href="#g3" x="148" y="205"/><use href="#g5" x="153" y="205"/><use href="#g1" x="172" y="205"/><use href="#g7" x="177" y="205"/><use href="#g1" x="197" y="205"/><use href="#g8" x="202" y="205"/><use href="#g2" x="222" y="205"/><use href="#g2" x="227" y="205"/><use href="#g2" x="246" y="205"/><use href="#g3" x="251" y="205"/><use href="#g2" x="296" y="205"/><use href="#g9" x="301" y="205"/><use href="#g3" x="320" y="205"/><use href="#g4" x="325" y="205"/><use href="#g3" x="468" y="205"/><use href="#g9" x="473" y="205"/><use href="#g1" x="493" y="205"/><use href="#g6" x="498" y="205"/><use href="#g1" x="518" y="205"/><use href="#g8" x="523" y="205"/><use href="#g1" x="542" y="205"/><use href="#g3" x="547" y="205"/><use href="#g1" x="567" y="205"/><use href="#g5" x="572" y="205"/><use href="#g1" x="592" y="205"/><use href="#g3" x="597" y="205"/><use href="#g1" x="616" y="205"/><use href="#g1" x="621" y="205"/><use href="#g1" x="641" y="205"/><use href="#g0" x="646" y="205"/><use href="#g9" x="667" y="205"/><use href="#g7" x="692" y="205"/><use href="#g5" x="717" y="205"/><use href="#g6" x="741" y="205"/><use href="#g5" x="766" y="205"/><use href="#g5" x="791" y="205"/><use href="#g8" x="815" y="205"/><use href="#g9" x="840" y="205"/><use href="#g9" x="865" y="205"/><use href="#g8" x="889" y="205"/><use href="#g5" x="49" y="219"/><use href="#g6" x="54" y="219"/><use href="#g2" x="148" y="219"/><use href="#g8" x="153" y="219"/><use href="#g1" x="172" y="219"/><use href="#g9" x="177" y="219"/><use href="#g1" x="197" y="219"/><use href="#g4" x="202" y="219"/><use href="#g1" x="222" y="219"/><use href="#g6" x="227" y="219"/><use href="#g2" x="246" y="219"/><use href="#g1" x="251" y="219"/><use href="#g2" x="271" y="219"/><use href="#g6" x="276" y="219"/><use href="#g2" x="296" y="219"/><use href="#g9" x="301" y="219"/><use href="#g2" x="320" y="219"/><use href="#g9" x="325" y="219"/><use href="#g3" x="345" y="219"/><use href="#g1" x="350" y="219"/><use href="#g2" x="444" y="219"/><use href="#g5" x="449" y="219"/><use href="#g3" x="468" y="219"/><use href="#g7" x="473" y="219"/><use href="#g3" x="493" y="219"/><use href="#g1" x="498" y="219"/><use href="#g2" x="518" y="219"/><use href="#g1" x="523" y="219"/><use href="#g1" x="542" y="219"/><use href="#g9" x="547" y="219"/><use href="#g1" x="567" y="219"/><use href="#g1" x="572" y="219"/><use href="#g1" x="592" y="219"/><use href="#g2" x="597" y="219"/><use href="#g1" x="616" y="219"/><use href="#g0" x="621" y="219"/><use href="#g6" x="643" y="219"/><use href="#g7" x="667" y="219"/><use href="#g6" x="692" y="219"/><use href="#g6" x="717" y="219"/><use href="#g6" x="741" y="219"/><use href="#g3" x="766" y="219"/><use href="#g5" x="791" y="219"/><use href="#g6" x="815" y="219"/><use href="#g6" x="840" y="219"/><use href="#g1" x="863" y="219"/><use href="#g3" x="868" y="219"/><use href="#g2" x="178" y="234"/><use href="#g4" x="183" y="234"/><use href="#g1" x="191" y="234"/><use href="#g4" x="196" y="234"/><use href="#g2" x="203" y="234"/><use href="#g0" x="208" y="234"/><use href="#g1" x="215" y="234"/><use href="#g1" x="220" y="234"/><use href="#g1" x="228" y="234"/><use href="#g6" x="233" y="234"/><use href="#g1" x="240" y="234"/><use href="#g7" x="245" y="234"/><use href="#g2" x="252" y="234"/><use href="#g5" x="257" y="234"/><use href="#g2" x="265" y="234"/><use href="#g2" x="270" y="234"/><use href="#g2" x="277" y="234"/><use href="#g8" x="282" y="234"/><use href="#g2" x="289" y="234"/><use href="#g7" x="294" y="234"/><use href="#g3" x="302" y="234"/><use href="#g0" x="307" y="234"/><use href="#g2" x="314" y="234"/><use href="#g5" x="319" y="234"/><use href="#g2" x="326" y="234"/><use href="#g7" x="331" y="234"/><use href="#g2" x="339" y="234"/><use href="#g8" x="344" y="234"/><use href="#g2" x="351" y="234"/><use href="#g5" x="356" y="234"/><use href="#g2" x="462" y="234"/><use href="#g4" x="467" y="234"/><use href="#g2" x="474" y="234"/><use href="#g7" x="479" y="234"/><use href="#g2" x="487" y="234"/><use href="#g8" x="492" y="234"/><use href="#g2" x="499" y="234"/><use href="#g4" x="504" y="234"/><use href="#g1" x="511" y="234"/><use href="#g9" x="516" y="234"/><use href="#g1" x="524" y="234"/><use href="#g5" x="529" y="234"/><use href="#g1" x="536" y="234"/><use href="#g4" x="541" y="234"/><use href="#g1" x="548" y="234"/><use href="#g3" x="553" y="234"/><use href="#g1" x="561" y="234"/><use href="#g0" x="566" y="234"/><use href="#g1" x="573" y="234"/><use href="#g2" x="578" y="234"/><use href="#g9" x="587" y="234"/><use href="#g8" x="600" y="234"/><use href="#g8" x="612" y="234"/><use href="#g9" x="624" y="234"/><use href="#g6" x="637" y="234"/><use href="#g6" x="649" y="234"/><use href="#g6" x="661" y="234"/><use href="#g7" x="674" y="234"/><use href="#g7" x="686" y="234"/><use href="#g6" x="698" y="234"/><use href="#g1" x="709" y="234"/><use href="#g1" x="714" y="234"/><use href="#g1" x="721" y="234"/><use href="#g3" x="726" y="234"/><use href="#g1" x="733" y="234"/><use href="#g2" x="738" y="234"/><use href="#g7" x="748" y="234"/><use href="#g7" x="760" y="234"/><use href="#g4" x="772" y="234"/><use href="#g6" x="785" y="234"/><use href="#g8" x="797" y="234"/><use href="#g6" x="809" y="234"/><use href="#g7" x="822" y="234"/><use href="#g8" x="834" y="234"/><use href="#g6" x="846" y="234"/><use href="#g8" x="859" y="234"/><use href="#g2" x="178" y="248"/><use href="#g2" x="183" y="248"/><use href="#g1" x="191" y="248"/><use href="#g0" x="196" y="248"/><use href="#g1" x="203" y="248"/><use href="#g0" x="208" y="248"/><use href="#g9" x="217" y="248"/><use href="#g1" x="228" y="248"/><use href="#g3" x="233" y="248"/><use href="#g1" x="240" y="248"/><use href="#g7" x="245" y="248"/><use href="#g1" x="252" y="248"/><use href="#g8" x="257" y="248"/><use href="#g2" x="265" y="248"/><use href="#g3" x="270" y="248"/><use href="#g2" x="277" y="248"/><use href="#g7" x="282" y="248"/><use href="#g2" x="289" y="248"/><use href="#g9" x="294" y="248"/><use href="#g1" x="302" y="248"/><use href="#g7" x="307" y="248"/><use href="#g1" x="314" y="248"/><use href="#g5" x="319" y="248"/><use href="#g2" x="326" y="248"/><use href="#g7" x="331" y="248"/><use href="#g1" x="462" y="248"/><use href="#g8" x="467" y="248"/><use href="#g2" x="474" y="248"/><use href="#g1" x="479" y="248"/><use href="#g2" x="487" y="248"/><use href="#g0" x="492" y="248"/><use href="#g1" x="499" y="248"/><use href="#g4" x="504" y="248"/><use href="#g1" x="511" y="248"/><use href="#g2" x="516" y="248"/><use href="#g2" x="524" y="248"/><use href="#g0" x="529" y="248"/><use href="#g1" x="536" y="248"/><use href="#g7" x="541" y="248"/><use href="#g1" x="548" y="248"/><use href="#g3" x="553" y="248"/><use href="#g1" x="561" y="248"/><use href="#g1" x="566" y="248"/><use href="#g1" x="573" y="248"/><use href="#g2" x="578" y="248"/><use href="#g1" x="585" y="248"/><use href="#g6" x="590" y="248"/><use href="#g1" x="598" y="248"/><use href="#g8" x="603" y="248"/><use href="#g1" x="610" y="248"/><use href="#g1" x="615" y="248"/><use href="#g8" x="624" y="248"/><use href="#g6" x="637" y="248"/><use href="#g5" x="649" y="248"/><use href="#g5" x="661" y="248"/><use href="#g6" x="674" y="248"/><use href="#g5" x="686" y="248"/><use href="#g4" x="698" y="248"/><use href="#g1" x="711" y="248"/><use href="#g1" x="723" y="248"/><use href="#g3" x="735" y="248"/><use href="#g4" x="748" y="248"/><use href="#g5" x="760" y="248"/><use href="#g7" x="772" y="248"/><use href="#g1" x="783" y="248"/><use href="#g1" x="788" y="248"/><use href="#g1" x="795" y="248"/><use href="#g8" x="800" y="248"/><use href="#g6" x="809" y="248"/><use href="#g4" x="822" y="248"/><use href="#g4" x="834" y="248"/><use href="#g7" x="846" y="248"/><use href="#g1" x="178" y="262"/><use href="#g2" x="183" y="262"/><use href="#g6" x="193" y="262"/><use href="#g8" x="205" y="262"/><use href="#g9" x="217" y="262"/><use href="#g9" x="230" y="262"/><use href="#g1" x="240" y="262"/><use href="#g3" x="245" y="262"/><use href="#g1" x="252" y="262"/><use href="#g4" x="257" y="262"/><use href="#g1" x="265" y="262"/><use href="#g8" x="270" y="262"/><use href="#g2" x="277" y="262"/><use href="#g1" x="282" y="262"/><use href="#g1" x="289" y="262"/><use href="#g6" x="294" y="262"/><use href="#g4" x="400" y="262"/><use href="#g3" x="405" y="262"/><use href="#g4" x="413" y="262"/><use href="#g9" x="418" y="262"/><use href="#g1" x="462" y="262"/><use href="#g3" x="467" y="262"/><use href="#g1" x="474" y="262"/><use href="#g4" x="479" y="262"/><use href="#g1" x="487" y="262"/><use href="#g7" x="492" y="262"/><use href="#g1" x="499" y="262"/><use href="#g1" x="504" y="262"/><use href="#g1" x="511" y="262"/><use href="#g3" x="516" y="262"/><use href="#g1" x="524" y="262"/><use href="#g2" x="529" y="262"/><use href="#g1" x="536" y="262"/><use href="#g0" x="541" y="262"/><use href="#g9" x="550" y="262"/><use href="#g8" x="563" y="262"/><use href="#g9" x="575" y="262"/><use href="#g1" x="585" y="262"/><use href="#g0" x="590" y="262"/><use href="#g1" x="598" y="262"/><use href="#g2" x="603" y="262"/><use href="#g1" x="610" y="262"/><use href="#g2" x="615" y="262"/><use href="#g9" x="624" y="262"/><use href="#g5" x="637" y="262"/><use href="#g5" x="649" y="262"/><use href="#g6" x="661" y="262"/><use href="#g3" x="674" y="262"/><use href="#g2" x="686" y="262"/><use href="#g1" x="698" y="262"/><use href="#g5" x="711" y="262"/><use href="#g4" x="723" y="262"/><use href="#g5" x="735" y="262"/><use href="#g6" x="748" y="262"/><use href="#g4" x="760" y="262"/><use href="#g7" x="772" y="262"/><use href="#g1" x="783" y="262"/><use href="#g1" x="788" y="262"/><use href="#g1" x="795" y="262"/><use href="#g8" x="800" y="262"/><use href="#g1" x="807" y="262"/><use href="#g1" x="812" y="262"/><use href="#g5" x="822" y="262"/><use href="#g6" x="834" y="262"/><use href="#g1" x="191" y="276"/><use href="#g7" x="196" y="276"/><use href="#g2" x="205" y="276"/><use href="#g5" x="217" y="276"/><use href="#g9" x="230" y="276"/><use href="#g1" x="240" y="276"/><use href="#g3" x="245" y="276"/><use href="#g1" x="252" y="276"/><use href="#g4" x="257" y="276"/><use href="#g1" x="265" y="276"/><use href="#g5" x="270" y="276"/><use href="#g1" x="277" y="276"/><use href="#g3" x="282" y="276"/><use href="#g2" x="326" y="276"/><use href="#g1" x="331" y="276"/><use href="#g3" x="437" y="276"/><use href="#g6" x="442" y="276"/><use href="#g1" x="462" y="276"/><use href="#g1" x="467" y="276"/><use href="#g1" x="474" y="276"/><use href="#g0" x="479" y="276"/><use href="#g2" x="489" y="276"/><use href="#g3" x="501" y="276"/><use href="#g9" x="513" y="276"/><use href="#g1" x="524" y="276"/><use href="#g6" x="529" y="276"/><use href="#g1" x="536" y="276"/><use href="#g6" x="541" y="276"/><use href="#g2" x="548" y="276"/><use href="#g2" x="553" y="276"/><use href="#g9" x="563" y="276"/><use href="#g1" x="573" y="276"/><use href="#g1" x="578" y="276"/><use href="#g4" x="587" y="276"/><use href="#g5" x="600" y="276"/><use href="#g6" x="612" y="276"/><use href="#g5" x="624" y="276"/><use href="#g5" x="637" y="276"/><use href="#g8" x="649" y="276"/><use href="#g9" x="661" y="276"/><use href="#g8" x="674" y="276"/><use href="#g1" x="684" y="276"/><use href="#g0" x="689" y="276"/><use href="#g9" x="698" y="276"/><use href="#g1" x="709" y="276"/><use href="#g1" x="714" y="276"/><use href="#g8" x="723" y="276"/><use href="#g2" x="733" y="276"/><use href="#g1" x="738" y="276"/><use href="#g2" x="746" y="276"/><use href="#g0" x="751" y="276"/><use href="#g9" x="760" y="276"/><use href="#g1" x="770" y="276"/><use href="#g1" x="775" y="276"/><use href="#g1" x="783" y="276"/><use href="#g7" x="788" y="276"/><use href="#g1" x="795" y="276"/><use href="#g1" x="800" y="276"/><use href="#g4" x="809" y="276"/><use href="#g3" x="822" y="276"/><use href="#g2" x="43" y="291"/><use href="#g4" x="48" y="291"/><use href="#g2" x="191" y="291"/><use href="#g6" x="196" y="291"/><use href="#g4" x="205" y="291"/><use href="#g8" x="217" y="291"/><use href="#g1" x="228" y="291"/><use href="#g0" x="233" y="291"/><use href="#g1" x="240" y="291"/><use href="#g7" x="245" y="291"/><use href="#g1" x="252" y="291"/><use href="#g4" x="257" y="291"/><use href="#g9" x="279" y="291"/><use href="#g1" x="289" y="291"/><use href="#g4" x="294" y="291"/><use href="#g3" x="437" y="291"/><use href="#g1" x="442" y="291"/><use href="#g2" x="450" y="291"/><use href="#g7" x="455" y="291"/><use href="#g1" x="464" y="291"/><use href="#g1" x="476" y="291"/><use href="#g1" x="489" y="291"/><use href="#g1" x="501" y="291"/><use href="#g1" x="513" y="291"/><use href="#g7" x="526" y="291"/><use href="#g4" x="538" y="291"/><use href="#g1" x="550" y="291"/><use href="#g2" x="563" y="291"/><use href="#g3" x="575" y="291"/><use href="#g6" x="587" y="291"/><use href="#g5" x="600" y="291"/><use href="#g4" x="612" y="291"/><use href="#g5" x="624" y="291"/><use href="#g4" x="637" y="291"/><use href="#g7" x="649" y="291"/><use href="#g8" x="661" y="291"/><use href="#g8" x="674" y="291"/><use href="#g9" x="686" y="291"/><use href="#g1" x="696" y="291"/><use href="#g0" x="701" y="291"/><use href="#g1" x="709" y="291"/><use href="#g6" x="714" y="291"/><use href="#g1" x="721" y="291"/><use href="#g5" x="726" y="291"/><use href="#g2" x="733" y="291"/><use href="#g4" x="738" y="291"/><use href="#g3" x="746" y="291"/><use href="#g6" x="751" y="291"/><use href="#g1" x="758" y="291"/><use href="#g9" x="763" y="291"/><use href="#g2" x="770" y="291"/><use href="#g9" x="775" y="291"/><use href="#g3" x="783" y="291"/><use href="#g1" x="788" y="291"/><use href="#g1" x="795" y="291"/><use href="#g0" x="800" y="291"/><use href="#g1" x="807" y="291"/><use href="#g1" x="812" y="291"/><use href="#g3" x="834" y="291"/><use href="#g3" x="92" y="305"/><use href="#g2" x="97" y="305"/><use href="#g5" x="205" y="305"/><use href="#g5" x="217" y="305"/><use href="#g7" x="230" y="305"/><use href="#g9" x="242" y="305"/><use href="#g9" x="267" y="305"/><use href="#g9" x="279" y="305"/><use href="#g1" x="289" y="305"/><use href="#g0" x="294" y="305"/><use href="#g1" x="302" y="305"/><use href="#g3" x="307" y="305"/><use href="#g3" x="439" y="305"/><use href="#g0" x="452" y="305"/><use href="#g1" x="489" y="305"/><use href="#g1" x="501" y="305"/><use href="#g1" x="538" y="305"/><use href="#g0" x="563" y="305"/><use href="#g2" x="575" y="305"/><use href="#g7" x="587" y="305"/><use href="#g3" x="600" y="305"/><use href="#g3" x="612" y="305"/><use href="#g8" x="624" y="305"/><use href="#g9" x="649" y="305"/><use href="#g1" x="659" y="305"/><use href="#g1" x="664" y="305"/><use href="#g9" x="674" y="305"/><use href="#g1" x="684" y="305"/><use href="#g1" x="689" y="305"/><use href="#g1" x="696" y="305"/><use href="#g3" x="701" y="305"/><use href="#g1" x="709" y="305"/><use href="#g3" x="714" y="305"/><use href="#g1" x="721" y="305"/><use href="#g2" x="726" y="305"/><use href="#g2" x="733" y="305"/><use href="#g6" x="738" y="305"/><use href="#g3" x="746" y="305"/><use href="#g3" x="751" y="305"/><use href="#g3" x="758" y="305"/><use href="#g2" x="763" y="305"/><use href="#g3" x="770" y="305"/><use href="#g3" x="775" y="305"/><use href="#g3" x="783" y="305"/><use href="#g3" x="788" y="305"/><use href="#g1" x="795" y="305"/><use href="#g6" x="800" y="305"/><use href="#g4" x="859" y="305"/><use href="#g5" x="92" y="319"/><use href="#g3" x="97" y="319"/><use href="#g1" x="203" y="319"/><use href="#g6" x="208" y="319"/><use href="#g1" x="228" y="319"/><use href="#g0" x="233" y="319"/><use href="#g8" x="242" y="319"/><use href="#g9" x="254" y="319"/><use href="#g1" x="265" y="319"/><use href="#g0" x="270" y="319"/><use href="#g4" x="279" y="319"/><use href="#g1" x="289" y="319"/><use href="#g4" x="294" y="319"/><use href="#g1" x="302" y="319"/><use href="#g0" x="307" y="319"/><use href="#g9" x="316" y="319"/><use href="#g2" x="326" y="319"/><use href="#g6" x="331" y="319"/><use href="#g1" x="425" y="319"/><use href="#g8" x="430" y="319"/><use href="#g4" x="439" y="319"/><use href="#g1" x="452" y="319"/><use href="#g2" x="464" y="319"/><use href="#g1" x="476" y="319"/><use href="#g1" x="489" y="319"/><use href="#g0" x="501" y="319"/><use href="#g0" x="513" y="319"/><use href="#g0" x="526" y="319"/><use href="#g0" x="563" y="319"/><use href="#g5" x="575" y="319"/><use href="#g4" x="587" y="319"/><use href="#g1" x="600" y="319"/><use href="#g1" x="610" y="319"/><use href="#g2" x="615" y="319"/><use href="#g1" x="659" y="319"/><use href="#g3" x="664" y="319"/><use href="#g1" x="672" y="319"/><use href="#g4" x="677" y="319"/><use href="#g1" x="684" y="319"/><use href="#g5" x="689" y="319"/><use href="#g1" x="709" y="319"/><use href="#g1" x="714" y="319"/><use href="#g1" x="721" y="319"/><use href="#g7" x="726" y="319"/><use href="#g1" x="733" y="319"/><use href="#g6" x="738" y="319"/><use href="#g2" x="746" y="319"/><use href="#g6" x="751" y="319"/><use href="#g8" x="760" y="319"/><use href="#g6" x="772" y="319"/><use href="#g9" x="785" y="319"/><use href="#g1" x="894" y="319"/><use href="#g8" x="899" y="319"/><use href="#g1" x="252" y="333"/><use href="#g0" x="257" y="333"/><use href="#g7" x="267" y="333"/><use href="#g7" x="279" y="333"/><use href="#g9" x="291" y="333"/><use href="#g8" x="304" y="333"/><use href="#g1" x="314" y="333"/><use href="#g6" x="319" y="333"/><use href="#g1" x="326" y="333"/><use href="#g7" x="331" y="333"/><use href="#g2" x="339" y="333"/><use href="#g7" x="344" y="333"/><use href="#g6" x="439" y="333"/><use href="#g5" x="452" y="333"/><use href="#g4" x="464" y="333"/><use href="#g6" x="476" y="333"/><use href="#g6" x="489" y="333"/><use href="#g1" x="501" y="333"/><use href="#g1" x="513" y="333"/><use href="#g2" x="526" y="333"/><use href="#g1" x="538" y="333"/><use href="#g2" x="550" y="333"/><use href="#g1" x="563" y="333"/><use href="#g9" x="575" y="333"/><use href="#g9" x="587" y="333"/><use href="#g1" x="598" y="333"/><use href="#g5" x="603" y="333"/><use href="#g1" x="659" y="333"/><use href="#g5" x="664" y="333"/><use href="#g1" x="672" y="333"/><use href="#g5" x="677" y="333"/><use href="#g1" x="684" y="333"/><use href="#g2" x="689" y="333"/><use href="#g2" x="709" y="333"/><use href="#g3" x="714" y="333"/><use href="#g1" x="721" y="333"/><use href="#g0" x="726" y="333"/><use href="#g1" x="733" y="333"/><use href="#g4" x="738" y="333"/><use href="#g2" x="746" y="333"/><use href="#g4" x="751" y="333"/><use href="#g5" x="785" y="333"/><use href="#g2" x="797" y="333"/><use href="#g9" x="834" y="333"/><use href="#g1" x="277" y="348"/><use href="#g4" x="282" y="348"/><use href="#g9" x="291" y="348"/><use href="#g1" x="302" y="348"/><use href="#g5" x="307" y="348"/><use href="#g2" x="314" y="348"/><use href="#g2" x="319" y="348"/><use href="#g2" x="326" y="348"/><use href="#g3" x="331" y="348"/><use href="#g1" x="339" y="348"/><use href="#g6" x="344" y="348"/><use href="#g5" x="353" y="348"/><use href="#g1" x="450" y="348"/><use href="#g6" x="455" y="348"/><use href="#g1" x="462" y="348"/><use href="#g2" x="467" y="348"/><use href="#g2" x="474" y="348"/><use href="#g0" x="479" y="348"/><use href="#g1" x="487" y="348"/><use href="#g5" x="492" y="348"/><use href="#g1" x="499" y="348"/><use href="#g6" x="504" y="348"/><use href="#g4" x="513" y="348"/><use href="#g5" x="526" y="348"/><use href="#g3" x="538" y="348"/><use href="#g3" x="550" y="348"/><use href="#g5" x="563" y="348"/><use href="#g1" x="573" y="348"/><use href="#g3" x="578" y="348"/><use href="#g5" x="587" y="348"/><use href="#g8" x="600" y="348"/><use href="#g2" x="659" y="348"/><use href="#g7" x="664" y="348"/><use href="#g1" x="672" y="348"/><use href="#g0" x="677" y="348"/><use href="#g2" x="686" y="348"/><use href="#g2" x="709" y="348"/><use href="#g4" x="714" y="348"/><use href="#g1" x="721" y="348"/><use href="#g2" x="726" y="348"/><use href="#g1" x="733" y="348"/><use href="#g4" x="738" y="348"/><use href="#g1" x="746" y="348"/><use href="#g2" x="751" y="348"/><use href="#g1" x="770" y="348"/><use href="#g4" x="775" y="348"/><use href="#g2" x="785" y="348"/><use href="#g3" x="797" y="348"/><use href="#g1" x="809" y="348"/><use href="#g1" x="822" y="348"/><use href="#g0" x="859" y="348"/><use href="#g1" x="871" y="348"/><use href="#g9" x="896" y="348"/><use href="#g1" x="906" y="348"/><use href="#g7" x="911" y="348"/><use href="#g1" x="94" y="362"/><use href="#g2" x="289" y="362"/><use href="#g0" x="294" y="362"/><use href="#g2" x="302" y="362"/><use href="#g8" x="307" y="362"/><use href="#g9" x="328" y="362"/><use href="#g2" x="339" y="362"/><use href="#g1" x="344" y="362"/><use href="#g9" x="353" y="362"/><use href="#g1" x="462" y="362"/><use href="#g3" x="467" y="362"/><use href="#g2" x="474" y="362"/><use href="#g5" x="479" y="362"/><use href="#g2" x="499" y="362"/><use href="#g4" x="504" y="362"/><use href="#g3" x="511" y="362"/><use href="#g9" x="516" y="362"/><use href="#g5" x="526" y="362"/><use href="#g5" x="538" y="362"/><use href="#g9" x="550" y="362"/><use href="#g3" x="563" y="362"/><use href="#g9" x="575" y="362"/><use href="#g1" x="585" y="362"/><use href="#g1" x="590" y="362"/><use href="#g1" x="598" y="362"/><use href="#g5" x="603" y="362"/><use href="#g2" x="661" y="362"/><use href="#g1" x="721" y="362"/><use href="#g0" x="726" y="362"/><use href="#g7" x="735" y="362"/><use href="#g1" x="746" y="362"/><use href="#g6" x="751" y="362"/><use href="#g6" x="760" y="362"/><use href="#g4" x="772" y="362"/><use href="#g1" x="783" y="362"/><use href="#g8" x="788" y="362"/><use href="#g8" x="797" y="362"/><use href="#g1" x="908" y="362"/><use href="#g2" x="277" y="376"/><use href="#g8" x="282" y="376"/><use href="#g3" x="289" y="376"/><use href="#g2" x="294" y="376"/><use href="#g1" x="302" y="376"/><use href="#g7" x="307" y="376"/><use href="#g2" x="314" y="376"/><use href="#g3" x="319" y="376"/><use href="#g1" x="326" y="376"/><use href="#g2" x="331" y="376"/><use href="#g1" x="339" y="376"/><use href="#g4" x="344" y="376"/><use href="#g1" x="351" y="376"/><use href="#g0" x="356" y="376"/><use href="#g9" x="365" y="376"/><use href="#g9" x="378" y="376"/><use href="#g9" x="390" y="376"/><use href="#g2" x="402" y="376"/><use href="#g4" x="499" y="376"/><use href="#g2" x="504" y="376"/><use href="#g4" x="511" y="376"/><use href="#g5" x="516" y="376"/><use href="#g2" x="524" y="376"/><use href="#g9" x="529" y="376"/><use href="#g6" x="538" y="376"/><use href="#g6" x="550" y="376"/><use href="#g2" x="563" y="376"/><use href="#g1" x="573" y="376"/><use href="#g0" x="578" y="376"/><use href="#g2" x="587" y="376"/><use href="#g1" x="622" y="376"/><use href="#g5" x="627" y="376"/><use href="#g1" x="733" y="376"/><use href="#g3" x="738" y="376"/><use href="#g5" x="748" y="376"/><use href="#g1" x="758" y="376"/><use href="#g8" x="763" y="376"/><use href="#g1" x="770" y="376"/><use href="#g3" x="775" y="376"/><use href="#g8" x="785" y="376"/><use href="#g2" x="795" y="376"/><use href="#g7" x="800" y="376"/><use href="#g1" x="807" y="376"/><use href="#g3" x="812" y="376"/><use href="#g1" x="820" y="376"/><use href="#g3" x="825" y="376"/><use href="#g1" x="832" y="376"/><use href="#g8" x="837" y="376"/><use href="#g1" x="844" y="376"/><use href="#g2" x="849" y="376"/><use href="#g1" x="857" y="376"/><use href="#g5" x="862" y="376"/><use href="#g0" x="920" y="376"/><use href="#g7" x="57" y="390"/><use href="#g1" x="94" y="390"/><use href="#g2" x="141" y="390"/><use href="#g1" x="146" y="390"/><use href="#g2" x="277" y="390"/><use href="#g2" x="282" y="390"/><use href="#g1" x="289" y="390"/><use href="#g7" x="294" y="390"/><use href="#g1" x="302" y="390"/><use href="#g3" x="307" y="390"/><use href="#g1" x="314" y="390"/><use href="#g8" x="319" y="390"/><use href="#g1" x="326" y="390"/><use href="#g7" x="331" y="390"/><use href="#g1" x="339" y="390"/><use href="#g6" x="344" y="390"/><use href="#g1" x="351" y="390"/><use href="#g3" x="356" y="390"/><use href="#g1" x="363" y="390"/><use href="#g5" x="368" y="390"/><use href="#g1" x="376" y="390"/><use href="#g1" x="381" y="390"/><use href="#g5" x="390" y="390"/><use href="#g8" x="402" y="390"/><use href="#g4" x="450" y="390"/><use href="#g1" x="455" y="390"/><use href="#g3" x="511" y="390"/><use href="#g7" x="516" y="390"/><use href="#g9" x="526" y="390"/><use href="#g6" x="538" y="390"/><use href="#g4" x="550" y="390"/><use href="#g9" x="563" y="390"/><use href="#g6" x="575" y="390"/><use href="#g1" x="659" y="390"/><use href="#g4" x="664" y="390"/><use href="#g8" x="748" y="390"/><use href="#g1" x="758" y="390"/><use href="#g0" x="763" y="390"/><use href="#g8" x="772" y="390"/><use href="#g6" x="785" y="390"/><use href="#g1" x="795" y="390"/><use href="#g2" x="800" y="390"/><use href="#g1" x="807" y="390"/><use href="#g2" x="812" y="390"/><use href="#g2" x="832" y="390"/><use href="#g7" x="837" y="390"/><use href="#g1" x="844" y="390"/><use href="#g7" x="849" y="390"/><use href="#g6" x="871" y="390"/><use href="#g9" x="883" y="390"/><use href="#g0" x="920" y="390"/><use href="#g2" x="43" y="405"/><use href="#g2" x="48" y="405"/><use href="#g2" x="55" y="405"/><use href="#g5" x="60" y="405"/><use href="#g7" x="69" y="405"/><use href="#g2" x="82" y="405"/><use href="#g2" x="117" y="405"/><use href="#g2" x="122" y="405"/><use href="#g1" x="289" y="405"/><use href="#g3" x="294" y="405"/><use href="#g2" x="302" y="405"/><use href="#g2" x="307" y="405"/><use href="#g1" x="314" y="405"/><use href="#g7" x="319" y="405"/><use href="#g1" x="326" y="405"/><use href="#g3" x="331" y="405"/><use href="#g1" x="339" y="405"/><use href="#g2" x="344" y="405"/><use href="#g9" x="353" y="405"/><use href="#g7" x="365" y="405"/><use href="#g4" x="378" y="405"/><use href="#g1" x="388" y="405"/><use href="#g5" x="393" y="405"/><use href="#g2" x="511" y="405"/><use href="#g5" x="516" y="405"/><use href="#g4" x="526" y="405"/><use href="#g5" x="538" y="405"/><use href="#g6" x="550" y="405"/><use href="#g1" x="561" y="405"/><use href="#g0" x="566" y="405"/><use href="#g8" x="575" y="405"/><use href="#g4" x="587" y="405"/><use href="#g1" x="598" y="405"/><use href="#g8" x="603" y="405"/><use href="#g3" x="610" y="405"/><use href="#g5" x="615" y="405"/><use href="#g3" x="622" y="405"/><use href="#g1" x="627" y="405"/><use href="#g2" x="721" y="405"/><use href="#g3" x="726" y="405"/><use href="#g7" x="785" y="405"/><use href="#g4" x="809" y="405"/><use href="#g9" x="822" y="405"/><use href="#g9" x="834" y="405"/><use href="#g1" x="857" y="405"/><use href="#g4" x="862" y="405"/><use href="#g9" x="883" y="405"/><use href="#g4" x="894" y="405"/><use href="#g2" x="899" y="405"/><use href="#g2" x="918" y="405"/><use href="#g7" x="923" y="405"/><use href="#g3" x="43" y="419"/><use href="#g4" x="48" y="419"/><use href="#g2" x="55" y="419"/><use href="#g6" x="60" y="419"/><use href="#g2" x="67" y="419"/><use href="#g3" x="72" y="419"/><use href="#g1" x="82" y="419"/><use href="#g1" x="92" y="419"/><use href="#g7" x="97" y="419"/><use href="#g1" x="104" y="419"/><use href="#g7" x="109" y="419"/><use href="#g3" x="117" y="419"/><use href="#g0" x="122" y="419"/><use href="#g2" x="129" y="419"/><use href="#g0" x="134" y="419"/><use href="#g1" x="289" y="419"/><use href="#g6" x="294" y="419"/><use href="#g2" x="302" y="419"/><use href="#g2" x="307" y="419"/><use href="#g8" x="316" y="419"/><use href="#g2" x="326" y="419"/><use href="#g2" x="331" y="419"/><use href="#g9" x="341" y="419"/><use href="#g1" x="351" y="419"/><use href="#g5" x="356" y="419"/><use href="#g8" x="365" y="419"/><use href="#g1" x="376" y="419"/><use href="#g6" x="381" y="419"/><use href="#g6" x="390" y="419"/><use href="#g6" x="462" y="419"/><use href="#g6" x="467" y="419"/><use href="#g5" x="513" y="419"/><use href="#g4" x="526" y="419"/><use href="#g4" x="538" y="419"/><use href="#g9" x="550" y="419"/><use href="#g1" x="561" y="419"/><use href="#g6" x="566" y="419"/><use href="#g8" x="575" y="419"/><use href="#g8" x="587" y="419"/><use href="#g2" x="598" y="419"/><use href="#g3" x="603" y="419"/><use href="#g2" x="610" y="419"/><use href="#g6" x="615" y="419"/><use href="#g3" x="622" y="419"/><use href="#g2" x="627" y="419"/><use href="#g3" x="635" y="419"/><use href="#g7" x="640" y="419"/><use href="#g4" x="785" y="419"/><use href="#g7" x="797" y="419"/><use href="#g3" x="809" y="419"/><use href="#g4" x="822" y="419"/><use href="#g5" x="834" y="419"/><use href="#g1" x="844" y="419"/><use href="#g2" x="849" y="419"/><use href="#g2" x="894" y="419"/><use href="#g9" x="899" y="419"/><use href="#g3" x="918" y="419"/><use href="#g5" x="923" y="419"/><use href="#g3" x="43" y="433"/><use href="#g4" x="48" y="433"/><use href="#g7" x="94" y="433"/><use href="#g2" x="117" y="433"/><use href="#g6" x="122" y="433"/><use href="#g2" x="141" y="433"/><use href="#g4" x="146" y="433"/><use href="#g2" x="154" y="433"/><use href="#g5" x="159" y="433"/><use href="#g3" x="302" y="433"/><use href="#g3" x="307" y="433"/><use href="#g2" x="314" y="433"/><use href="#g3" x="319" y="433"/><use href="#g1" x="326" y="433"/><use href="#g6" x="331" y="433"/><use href="#g2" x="339" y="433"/><use href="#g8" x="344" y="433"/><use href="#g1" x="351" y="433"/><use href="#g3" x="356" y="433"/><use href="#g1" x="363" y="433"/><use href="#g9" x="368" y="433"/><use href="#g1" x="376" y="433"/><use href="#g8" x="381" y="433"/><use href="#g5" x="415" y="433"/><use href="#g1" x="511" y="433"/><use href="#g8" x="516" y="433"/><use href="#g3" x="526" y="433"/><use href="#g4" x="538" y="433"/><use href="#g1" x="548" y="433"/><use href="#g2" x="553" y="433"/><use href="#g1" x="561" y="433"/><use href="#g3" x="566" y="433"/><use href="#g2" x="573" y="433"/><use href="#g1" x="578" y="433"/><use href="#g8" x="587" y="433"/><use href="#g2" x="598" y="433"/><use href="#g5" x="603" y="433"/><use href="#g4" x="622" y="433"/><use href="#g0" x="627" y="433"/><use href="#g7" x="760" y="433"/><use href="#g3" x="772" y="433"/><use href="#g3" x="809" y="433"/><use href="#g6" x="822" y="433"/><use href="#g6" x="834" y="433"/><use href="#g1" x="844" y="433"/><use href="#g1" x="849" y="433"/><use href="#g1" x="857" y="433"/><use href="#g2" x="862" y="433"/><use href="#g3" x="881" y="433"/><use href="#g2" x="886" y="433"/><use href="#g3" x="894" y="433"/><use href="#g4" x="899" y="433"/><use href="#g2" x="43" y="447"/><use href="#g4" x="48" y="447"/><use href="#g3" x="129" y="447"/><use href="#g9" x="134" y="447"/><use href="#g1" x="215" y="447"/><use href="#g7" x="220" y="447"/><use href="#g2" x="302" y="447"/><use href="#g5" x="307" y="447"/><use href="#g1" x="314" y="447"/><use href="#g8" x="319" y="447"/><use href="#g1" x="326" y="447"/><use href="#g6" x="331" y="447"/><use href="#g1" x="339" y="447"/><use href="#g2" x="344" y="447"/><use href="#g1" x="351" y="447"/><use href="#g4" x="356" y="447"/><use href="#g2" x="363" y="447"/><use href="#g4" x="368" y="447"/><use href="#g7" x="526" y="447"/><use href="#g4" x="538" y="447"/><use href="#g6" x="550" y="447"/><use href="#g1" x="561" y="447"/><use href="#g9" x="566" y="447"/><use href="#g3" x="598" y="447"/><use href="#g2" x="603" y="447"/><use href="#g1" x="758" y="447"/><use href="#g3" x="763" y="447"/><use href="#g5" x="772" y="447"/><use href="#g6" x="785" y="447"/><use href="#g4" x="797" y="447"/><use href="#g4" x="809" y="447"/><use href="#g5" x="822" y="447"/><use href="#g5" x="834" y="447"/><use href="#g6" x="846" y="447"/><use href="#g1" x="857" y="447"/><use href="#g8" x="862" y="447"/><use href="#g2" x="894" y="447"/><use href="#g2" x="899" y="447"/><use href="#g4" x="289" y="461"/><use href="#g0" x="294" y="461"/><use href="#g1" x="302" y="461"/><use href="#g2" x="307" y="461"/><use href="#g1" x="314" y="461"/><use href="#g5" x="319" y="461"/><use href="#g1" x="326" y="461"/><use href="#g1" x="331" y="461"/><use href="#g1" x="339" y="461"/><use href="#g1" x="344" y="461"/><use href="#g1" x="351" y="461"/><use href="#g7" x="356" y="461"/><use href="#g1" x="524" y="461"/><use href="#g8" x="529" y="461"/><use href="#g1" x="536" y="461"/><use href="#g7" x="541" y="461"/><use href="#g1" x="548" y="461"/><use href="#g7" x="553" y="461"/><use href="#g2" x="561" y="461"/><use href="#g0" x="566" y="461"/><use href="#g2" x="770" y="461"/><use href="#g9" x="775" y="461"/><use href="#g2" x="783" y="461"/><use href="#g0" x="788" y="461"/><use href="#g1" x="795" y="461"/><use href="#g3" x="800" y="461"/><use href="#g1" x="807" y="461"/><use href="#g4" x="812" y="461"/><use href="#g1" x="820" y="461"/><use href="#g3" x="825" y="461"/><use href="#g1" x="832" y="461"/><use href="#g0" x="837" y="461"/><use href="#g9" x="846" y="461"/><use href="#g2" x="857" y="461"/><use href="#g0" x="862" y="461"/><use href="#g9" x="908" y="461"/><use href="#g1" x="302" y="476"/><use href="#g8" x="307" y="476"/><use href="#g8" x="316" y="476"/><use href="#g8" x="328" y="476"/><use href="#g1" x="339" y="476"/><use href="#g3" x="344" y="476"/><use href="#g4" x="672" y="476"/><use href="#g3" x="677" y="476"/><use href="#g2" x="820" y="476"/><use href="#g6" x="825" y="476"/><use href="#g3" x="832" y="476"/><use href="#g1" x="837" y="476"/><use href="#g2" x="844" y="476"/><use href="#g4" x="849" y="476"/><use href="#g1" x="857" y="476"/><use href="#g7" x="862" y="476"/><use href="#g2" x="906" y="476"/><use href="#g9" x="911" y="476"/><use href="#g2" x="918" y="476"/><use href="#g1" x="923" y="476"/><use href="#g3" x="43" y="490"/><use href="#g4" x="48" y="490"/><use href="#g2" x="302" y="490"/><use href="#g3" x="307" y="490"/><use href="#g1" x="314" y="490"/><use href="#g2" x="319" y="490"/><use href="#g9" x="328" y="490"/><use href="#g3" x="462" y="490"/><use href="#g9" x="467" y="490"/><use href="#g2" x="844" y="490"/><use href="#g6" x="849" y="490"/><use href="#g1" x="894" y="490"/><use href="#g6" x="899" y="490"/><use href="#g2" x="906" y="490"/><use href="#g2" x="911" y="490"/><use href="#g3" x="918" y="490"/><use href="#g0" x="923" y="490"/><use href="#g1" x="302" y="504"/><use href="#g7" x="307" y="504"/><use href="#g1" x="314" y="504"/><use href="#g0" x="319" y="504"/><use href="#g3" x="573" y="504"/><use href="#g1" x="578" y="504"/><use href="#g3" x="610" y="504"/><use href="#g1" x="615" y="504"/><use href="#g3" x="659" y="504"/><use href="#g2" x="664" y="504"/><use href="#g2" x="894" y="504"/><use href="#g8" x="899" y="504"/><use href="#g3" x="906" y="504"/><use href="#g1" x="911" y="504"/><use href="#g2" x="296" y="518"/><use href="#g0" x="301" y="518"/><use href="#g1" x="320" y="518"/><use href="#g5" x="325" y="518"/><use href="#g3" x="345" y="518"/><use href="#g3" x="350" y="518"/><use href="#g3" x="863" y="518"/><use href="#g5" x="868" y="518"/><use href="#g2" x="887" y="518"/><use href="#g9" x="892" y="518"/><use href="#g2" x="320" y="547"/><use href="#g2" x="325" y="547"/><use href="#g1" x="345" y="547"/><use href="#g4" x="350" y="547"/><use href="#g2" x="370" y="547"/><use href="#g1" x="375" y="547"/><use href="#g1" x="320" y="561"/><use href="#g4" x="325" y="561"/><use href="#g1" x="567" y="561"/><use href="#g0" x="572" y="561"/><use href="#g1" x="592" y="561"/><use href="#g5" x="597" y="561"/><use href="#g1" x="641" y="561"/><use href="#g0" x="646" y="561"/><use href="#g2" x="665" y="561"/><use href="#g4" x="670" y="561"/><use href="#g1" x="715" y="561"/><use href="#g3" x="720" y="561"/><use href="#g3" x="764" y="561"/><use href="#g0" x="769" y="561"/><use href="#g2" x="838" y="561"/><use href="#g0" x="843" y="561"/><use href="#g1" x="863" y="561"/><use href="#g8" x="868" y="561"/><use href="#g2" x="160" y="575"/><use href="#g5" x="165" y="575"/><use href="#g2" x="308" y="575"/><use href="#g0" x="313" y="575"/><use href="#g1" x="456" y="575"/><use href="#g6" x="461" y="575"/><use href="#g7" x="507" y="575"/><use href="#g1" x="556" y="575"/><use href="#g1" x="606" y="575"/><use href="#g1" x="259" y="590"/><use href="#g1" x="264" y="590"/><use href="#g3" x="357" y="590"/><use href="#g3" x="362" y="590"/><use href="#g2" x="406" y="590"/><use href="#g0" x="411" y="590"/><use href="#g1" x="754" y="590"/><use href="#g1" x="900" y="590"/><use href="#g4" x="905" y="590"/><use href="#g1" x="234" y="604"/><use href="#g0" x="239" y="604"/><use href="#g0" x="483" y="618"/><use href="#g2" x="970" y="134"/><use href="#g3" x="975" y="134"/><use href="#g2" x="970" y="148"/><use href="#g3" x="975" y="148"/><use href="#g1" x="970" y="163"/><use href="#g9" x="975" y="163"/><use href="#g1" x="970" y="177"/><use href="#g6" x="975" y="177"/><use href="#g1" x="970" y="191"/><use href="#g6" x="975" y="191"/><use href="#g1" x="970" y="205"/><use href="#g5" x="975" y="205"/><use href="#g1" x="970" y="219"/><use href="#g5" x="975" y="219"/><use href="#g1" x="970" y="234"/><use href="#g4" x="975" y="234"/><use href="#g1" x="970" y="248"/><use href="#g2" x="975" y="248"/><use href="#g9" x="972" y="262"/><use href="#g1" x="970" y="276"/><use href="#g0" x="975" y="276"/><use href="#g1" x="970" y="291"/><use href="#g0" x="975" y="291"/><use href="#g8" x="972" y="305"/><use href="#g6" x="972" y="319"/><use href="#g7" x="972" y="333"/><use href="#g1" x="970" y="348"/><use href="#g1" x="975" y="348"/><use href="#g1" x="970" y="362"/><use href="#g3" x="975" y="362"/><use href="#g1" x="970" y="376"/><use href="#g6" x="975" y="376"/><use href="#g1" x="970" y="390"/><use href="#g3" x="975" y="390"/><use href="#g1" x="970" y="405"/><use href="#g0" x="975" y="405"/><use href="#g1" x="970" y="419"/><use href="#g0" x="975" y="419"/><use href="#g1" x="970" y="433"/><use href="#g2" x="975" y="433"/><use href="#g9" x="972" y="447"/><use href="#g1" x="970" y="461"/><use href="#g5" x="975" y="461"/><use href="#g1" x="970" y="476"/><use href="#g7" x="975" y="476"/><use href="#g1" x="970" y="490"/><use href="#g8" x="975" y="490"/><use href="#g1" x="970" y="504"/><use href="#g6" x="975" y="504"/><use href="#g2" x="970" y="518"/><use href="#g0" x="975" y="518"/><use href="#g1" x="970" y="547"/><use href="#g7" x="975" y="547"/><use href="#g1" x="970" y="561"/><use href="#g8" x="975" y="561"/><use href="#g4" x="972" y="575"/><use href="#g5" x="972" y="590"/><use href="#g6" x="972" y="604"/><use href="#g0" x="972" y="618"/></g>
<text class="lat" x="29.5" y="120.0">90 ° N</text>
<text class="lat" x="29.5" y="205.3">60 ° N</text>
<text class="lat" x="29.5" y="290.7">30 ° N</text>
<text class="lat" x="29.5" y="376.0">0 °</text>
<text class="lat" x="29.5" y="461.3">30 ° S</text>
<text class="lat" x="29.5" y="546.7">60 ° S</text>
<text class="lat" x="29.5" y="632.0">90 ° S</text>
<text class="lon" x="45.9" y="653">180 ° W</text>
<text class="lon" x="119.1" y="653">150 ° W</text>
<text class="lon" x="192.3" y="653">120 ° W</text>
<text class="lon" x="265.6" y="653">90 ° W</text>
<text class="lon" x="338.8" y="653">60 ° W</text>
<text class="lon" x="412.0" y="653">30 ° W</text>
<text class="lon" x="485.2" y="653">0 °</text>
<text class="lon" x="558.4" y="653">30 ° E</text>
<text class="lon" x="631.7" y="653">60 ° E</text>
<text class="lon" x="704.9" y="653">90 ° E</text>
<text class="lon" x="778.1" y="653">120 ° E</text>
<text class="lon" x="851.3" y="653">150 ° E</text>
<text class="lon" x="924.5" y="653">180 ° E</text>
<text x="485" y="28" style="font-size:18px;font-weight:bold;text-anchor:middle">Stratocumulus</text>
<text x="485" y="51" style="font-size:14.75px;font-weight:bold;text-anchor:middle">Average Cloud Amount (%)</text>
<text x="45" y="100" style="font-size:13px">Annual (1971 - 1996) Day</text>
<text x="925" y="100" style="font-size:13px;text-anchor:end">Land Areas Only</text>
<text x="974.5" y="98" style="font-size:9px;text-anchor:middle">ZONAL</text>
<text x="975" y="110.5" style="font-size:9px;text-anchor:middle">AVERAGE</text>
<text x="484.5" y="686" style="font-size:11px;text-anchor:middle;white-space:pre" xml:space="preserve">GLOBAL AVERAGE (LAND)  11.6 %</text>
<text x="486" y="720" style="font-size:13.3px;text-anchor:middle">(File name = lacalow.txt, MGRP = 2006, TYPE = 13, PCODE = 1, SN = 0)</text>

</svg></body></html>
